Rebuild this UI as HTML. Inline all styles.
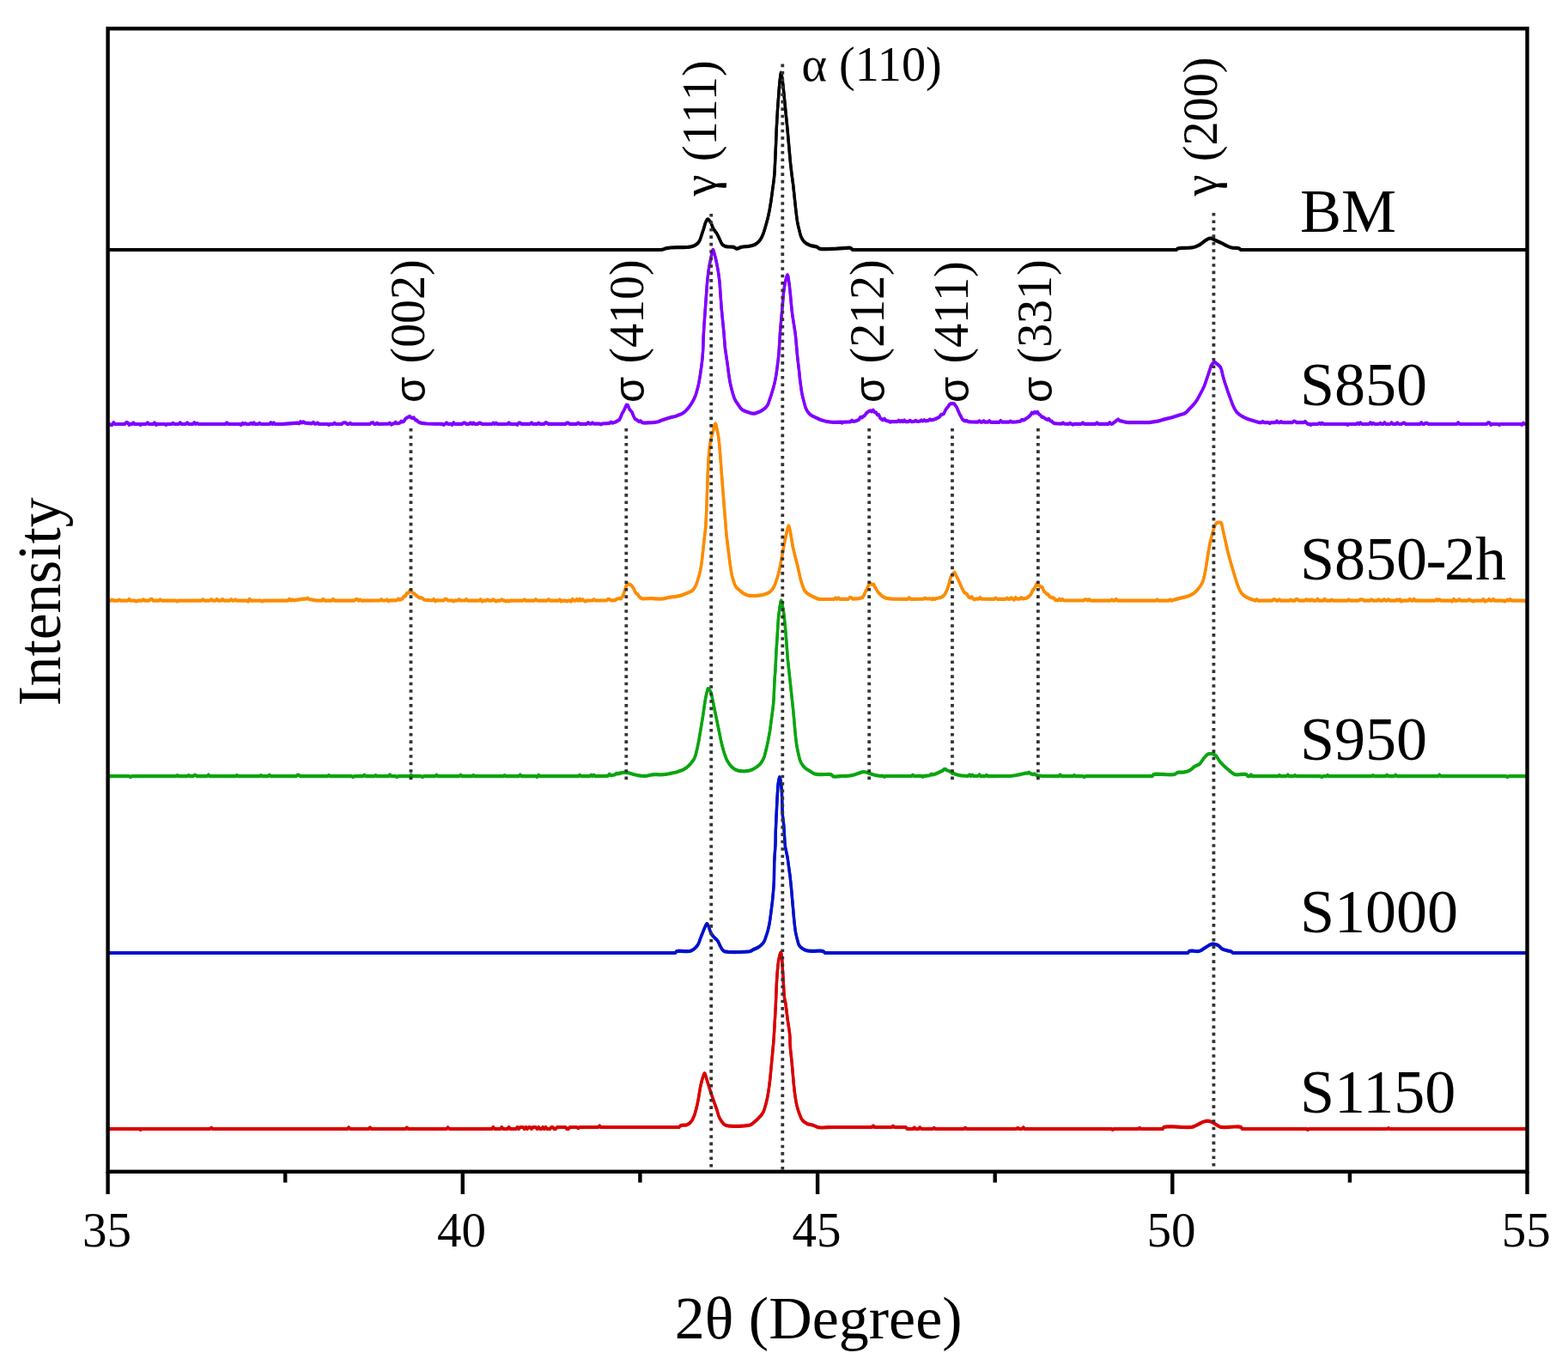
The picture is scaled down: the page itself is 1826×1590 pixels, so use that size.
<!DOCTYPE html>
<html lang="en"><head><meta charset="utf-8"><title>XRD patterns</title>
<style>html,body{margin:0;padding:0;background:#fff;}body{width:1826px;height:1590px;overflow:hidden;}svg{display:block;}text{font-family:"Liberation Serif","DejaVu Serif",serif;fill:#000;}.sg{font-family:"Liberation Sans","DejaVu Sans",sans-serif;}</style>
</head><body>
<svg xmlns="http://www.w3.org/2000/svg" width="1826" height="1590" viewBox="0 0 1826 1590">
<rect x="0" y="0" width="1826" height="1590" fill="#fff"/>
<g fill="none" stroke-width="3.3" stroke-linejoin="round" stroke-linecap="butt">
<path d="M125.6 291.0 L186.7 291.0 L247.7 291.0 L308.8 291.0 L369.8 291.0 L430.9 291.0 L491.9 291.0 L553.0 291.0 L614.0 291.0 L675.1 291.0 L736.1 291.0 L770.0 291.0 L773.0 290.2 L775.5 289.3 L776.3 289.1 L778.3 288.8 L780.7 288.5 L788.9 288.1 L791.4 288.0 L796.7 288.1 L799.1 288.0 L801.4 287.8 L804.7 287.3 L806.2 286.9 L807.7 286.5 L809.0 285.9 L810.2 285.2 L811.3 284.4 L812.3 283.6 L813.2 282.6 L814.0 281.5 L814.8 280.2 L815.4 278.7 L819.7 265.8 L821.1 260.6 L822.5 257.4 L823.0 256.4 L823.5 255.7 L824.1 255.4 L824.8 255.6 L825.6 256.3 L826.4 257.3 L827.9 259.5 L828.5 260.6 L829.8 264.5 L830.4 265.8 L831.2 267.1 L833.9 270.8 L834.8 272.1 L836.1 274.6 L838.5 279.7 L839.7 282.4 L840.3 283.6 L841.1 284.7 L841.8 285.3 L842.6 285.9 L843.5 286.4 L844.4 286.8 L845.5 287.2 L847.1 287.4 L848.9 287.5 L852.7 287.6 L854.3 287.8 L855.1 288.1 L856.6 289.1 L857.3 289.5 L858.1 289.7 L859.0 289.6 L859.9 289.2 L861.9 288.2 L863.1 287.8 L865.0 287.5 L871.8 286.9 L873.8 286.5 L876.2 286.0 L877.3 285.6 L878.4 285.2 L879.4 284.7 L880.6 283.9 L881.9 283.0 L883.0 281.9 L884.1 280.8 L885.1 279.6 L886.0 278.3 L886.8 276.8 L887.5 275.3 L888.9 272.1 L889.5 270.3 L890.7 266.5 L893.4 257.0 L894.8 251.3 L896.3 243.8 L897.9 234.3 L901.3 208.8 L901.9 202.9 L902.2 198.1 L903.5 169.2 L904.3 149.4 L905.6 126.3 L907.4 102.0 L908.3 92.4 L909.3 85.4 L909.5 84.8 L909.6 84.6 L909.8 84.9 L910.9 91.2 L911.8 98.2 L916.9 149.4 L920.4 188.8 L922.0 202.9 L923.7 215.5 L926.7 243.9 L928.0 254.7 L928.8 259.5 L929.6 263.4 L931.8 272.3 L932.3 274.0 L932.8 275.6 L933.5 277.1 L934.2 278.4 L935.0 279.6 L935.9 280.8 L936.9 281.8 L937.9 282.8 L939.0 283.6 L940.3 284.3 L941.5 284.9 L944.2 285.9 L945.7 286.4 L950.5 287.4 L951.8 287.8 L952.3 288.2 L953.2 289.0 L953.6 289.4 L954.3 289.7 L956.6 290.1 L959.7 290.2 L963.3 290.1 L974.3 289.6 L985.5 288.8 L989.6 288.7 L990.1 288.8 L990.5 288.9 L991.0 289.2 L993.0 291.0 L1054.5 291.0 L1115.6 291.0 L1176.6 291.0 L1237.7 291.0 L1298.7 291.0 L1359.8 291.0 L1370.1 291.0 L1370.7 290.1 L1371.0 289.8 L1371.4 289.5 L1373.6 289.1 L1376.9 288.9 L1384.6 288.7 L1387.6 288.4 L1389.2 288.1 L1390.6 287.8 L1391.8 287.5 L1393.0 287.0 L1394.2 286.6 L1395.1 286.1 L1396.9 285.2 L1398.6 284.1 L1399.6 283.3 L1402.9 280.7 L1406.2 278.7 L1407.3 278.1 L1408.4 277.7 L1409.5 277.5 L1410.6 277.6 L1411.7 278.0 L1415.0 279.7 L1421.6 282.7 L1426.4 285.2 L1429.9 286.9 L1431.1 287.4 L1432.3 287.8 L1433.6 288.2 L1435.5 288.6 L1439.9 288.9 L1441.9 289.1 L1443.3 289.5 L1443.7 289.8 L1444.8 291.0 L1506.3 291.0 L1567.4 291.0 L1628.4 291.0 L1689.5 291.0 L1750.5 291.0 L1778.5 291.0" stroke="#000000" transform="translate(0 -0.45)"/>
<path d="M125.6 291.0 L186.7 291.0 L247.7 291.0 L308.8 291.0 L369.8 291.0 L430.9 291.0 L491.9 291.0 L553.0 291.0 L614.0 291.0 L675.1 291.0 L736.1 291.0 L770.0 291.0 L773.0 290.2 L775.5 289.3 L776.3 289.1 L778.3 288.8 L780.7 288.5 L788.9 288.1 L791.4 288.0 L796.7 288.1 L799.1 288.0 L801.4 287.8 L804.7 287.3 L806.2 286.9 L807.7 286.5 L809.0 285.9 L810.2 285.2 L811.3 284.4 L812.3 283.6 L813.2 282.6 L814.0 281.5 L814.8 280.2 L815.4 278.7 L819.7 265.8 L821.1 260.6 L822.5 257.4 L823.0 256.4 L823.5 255.7 L824.1 255.4 L824.8 255.6 L825.6 256.3 L826.4 257.3 L827.9 259.5 L828.5 260.6 L829.8 264.5 L830.4 265.8 L831.2 267.1 L833.9 270.8 L834.8 272.1 L836.1 274.6 L838.5 279.7 L839.7 282.4 L840.3 283.6 L841.1 284.7 L841.8 285.3 L842.6 285.9 L843.5 286.4 L844.4 286.8 L845.5 287.2 L847.1 287.4 L848.9 287.5 L852.7 287.6 L854.3 287.8 L855.1 288.1 L856.6 289.1 L857.3 289.5 L858.1 289.7 L859.0 289.6 L859.9 289.2 L861.9 288.2 L863.1 287.8 L865.0 287.5 L871.8 286.9 L873.8 286.5 L876.2 286.0 L877.3 285.6 L878.4 285.2 L879.4 284.7 L880.6 283.9 L881.9 283.0 L883.0 281.9 L884.1 280.8 L885.1 279.6 L886.0 278.3 L886.8 276.8 L887.5 275.3 L888.9 272.1 L889.5 270.3 L890.7 266.5 L893.4 257.0 L894.8 251.3 L896.3 243.8 L897.9 234.3 L901.3 208.8 L901.9 202.9 L902.2 198.1 L903.5 169.2 L904.3 149.4 L905.6 126.3 L907.4 102.0 L908.3 92.4 L909.3 85.4 L909.5 84.8 L909.6 84.6 L909.8 84.9 L910.9 91.2 L911.8 98.2 L916.9 149.4 L920.4 188.8 L922.0 202.9 L923.7 215.5 L926.7 243.9 L928.0 254.7 L928.8 259.5 L929.6 263.4 L931.8 272.3 L932.3 274.0 L932.8 275.6 L933.5 277.1 L934.2 278.4 L935.0 279.6 L935.9 280.8 L936.9 281.8 L937.9 282.8 L939.0 283.6 L940.3 284.3 L941.5 284.9 L944.2 285.9 L945.7 286.4 L950.5 287.4 L951.8 287.8 L952.3 288.2 L953.2 289.0 L953.6 289.4 L954.3 289.7 L956.6 290.1 L959.7 290.2 L963.3 290.1 L974.3 289.6 L985.5 288.8 L989.6 288.7 L990.1 288.8 L990.5 288.9 L991.0 289.2 L993.0 291.0 L1054.5 291.0 L1115.6 291.0 L1176.6 291.0 L1237.7 291.0 L1298.7 291.0 L1359.8 291.0 L1370.1 291.0 L1370.7 290.1 L1371.0 289.8 L1371.4 289.5 L1373.6 289.1 L1376.9 288.9 L1384.6 288.7 L1387.6 288.4 L1389.2 288.1 L1390.6 287.8 L1391.8 287.5 L1393.0 287.0 L1394.2 286.6 L1395.1 286.1 L1396.9 285.2 L1398.6 284.1 L1399.6 283.3 L1402.9 280.7 L1406.2 278.7 L1407.3 278.1 L1408.4 277.7 L1409.5 277.5 L1410.6 277.6 L1411.7 278.0 L1415.0 279.7 L1421.6 282.7 L1426.4 285.2 L1429.9 286.9 L1431.1 287.4 L1432.3 287.8 L1433.6 288.2 L1435.5 288.6 L1439.9 288.9 L1441.9 289.1 L1443.3 289.5 L1443.7 289.8 L1444.8 291.0 L1506.3 291.0 L1567.4 291.0 L1628.4 291.0 L1689.5 291.0 L1750.5 291.0 L1778.5 291.0" stroke="#000000" transform="translate(0 0.45)"/>
<path d="M125.6 492.8 L127.2 494.0 L128.9 494.9 L130.6 494.9 L132.2 492.2 L133.9 494.0 L145.4 494.0 L147.1 492.2 L148.7 492.3 L150.4 494.9 L152.0 494.0 L153.7 494.0 L155.3 492.5 L157.0 494.0 L161.9 494.0 L163.6 494.9 L165.2 494.0 L170.2 494.0 L171.8 492.4 L173.5 494.0 L178.4 494.0 L180.1 492.5 L181.7 494.9 L183.4 494.0 L191.6 494.0 L193.3 494.9 L194.9 494.0 L199.9 494.0 L201.5 492.9 L203.2 494.0 L208.1 494.0 L209.8 492.3 L211.4 494.0 L216.4 494.0 L218.0 492.4 L219.7 494.0 L224.6 494.0 L226.3 492.2 L227.9 494.0 L229.6 493.0 L231.2 494.0 L262.6 494.0 L264.2 492.5 L265.9 494.0 L279.1 494.0 L280.7 494.9 L282.4 492.9 L284.0 494.0 L285.7 493.0 L287.3 494.0 L290.6 494.0 L292.3 492.8 L293.9 494.0 L295.6 492.5 L297.2 494.0 L300.5 494.0 L302.2 492.9 L303.8 494.0 L313.7 494.0 L315.4 492.2 L317.0 494.0 L318.7 492.5 L320.3 494.0 L330.2 493.8 L346.7 492.6 L348.4 493.4 L350.0 491.1 L351.7 492.5 L353.3 491.3 L355.0 492.6 L363.2 493.3 L364.9 491.9 L366.5 493.6 L368.2 493.7 L369.8 492.7 L371.5 493.8 L381.4 494.0 L383.0 494.9 L384.7 494.0 L388.0 494.0 L389.6 492.6 L391.3 494.0 L397.9 494.0 L399.5 492.6 L401.2 492.3 L402.8 492.5 L404.5 494.0 L406.1 494.0 L407.8 492.8 L409.4 494.0 L430.9 493.9 L432.5 492.5 L434.2 492.2 L435.8 493.9 L437.5 493.9 L439.1 492.8 L440.8 493.9 L452.3 493.7 L454.0 492.7 L455.6 494.6 L457.3 493.6 L458.9 493.5 L460.6 491.8 L462.2 493.3 L463.9 493.0 L465.5 492.7 L467.2 490.7 L468.8 491.5 L470.5 490.6 L472.1 487.9 L473.8 486.7 L475.4 485.8 L477.1 484.9 L478.7 486.5 L480.4 487.1 L482.0 486.5 L483.7 489.3 L485.3 489.4 L487.0 491.4 L488.6 492.1 L490.3 492.6 L491.9 493.0 L493.6 493.2 L496.9 493.5 L515.0 493.9 L516.7 494.8 L518.3 493.9 L520.0 492.5 L521.6 493.9 L524.9 493.9 L526.6 494.8 L528.2 492.3 L529.9 493.9 L538.1 493.9 L539.8 492.7 L541.4 492.6 L543.1 493.9 L546.4 493.9 L548.0 492.5 L549.7 493.9 L551.3 492.6 L553.0 493.9 L556.3 493.9 L557.9 492.7 L559.6 492.9 L561.2 493.9 L572.8 494.0 L574.4 492.6 L576.1 494.0 L577.7 492.6 L579.4 494.0 L590.9 494.0 L592.6 492.5 L594.2 494.0 L600.8 494.0 L602.5 494.9 L604.1 492.6 L605.8 492.7 L607.4 493.9 L617.3 493.9 L619.0 492.4 L620.6 493.9 L625.6 493.9 L627.2 492.7 L628.9 493.9 L633.8 493.9 L635.5 492.2 L637.1 492.8 L638.8 493.9 L658.6 493.9 L660.2 492.6 L661.9 492.7 L663.5 493.9 L671.8 493.8 L673.4 492.6 L675.1 493.8 L683.3 493.8 L685.0 492.2 L686.6 493.7 L688.3 493.7 L689.9 492.4 L691.6 493.7 L698.2 493.6 L699.8 494.4 L701.5 493.5 L708.1 493.1 L709.7 493.0 L711.4 491.7 L713.0 492.6 L714.7 492.2 L716.3 491.8 L718.0 491.0 L719.6 489.9 L721.3 489.1 L722.9 485.7 L724.6 481.3 L726.2 478.9 L729.5 471.7 L731.2 472.1 L732.8 476.3 L734.5 478.5 L736.1 480.3 L737.8 484.6 L739.4 487.9 L741.1 488.8 L742.7 490.1 L744.4 491.1 L746.0 490.3 L747.7 492.1 L749.3 492.5 L750.6 492.6 L760.1 492.2 L763.0 491.9 L765.4 491.5 L766.5 491.3 L770.0 489.8 L777.5 487.3 L779.4 486.7 L781.3 486.1 L785.2 485.2 L787.1 484.7 L788.9 484.1 L792.1 482.8 L793.6 482.1 L795.1 481.3 L796.4 480.4 L797.6 479.5 L798.6 478.5 L800.5 476.4 L802.4 474.2 L804.2 471.7 L805.8 469.0 L807.5 466.1 L809.0 463.0 L809.6 461.5 L810.2 460.0 L811.1 457.0 L812.8 450.7 L813.9 445.8 L815.2 438.2 L817.4 422.6 L818.1 416.2 L818.6 408.7 L818.9 401.9 L819.1 394.1 L819.9 379.8 L823.2 333.9 L823.9 325.2 L824.9 317.4 L825.5 312.6 L826.3 308.3 L828.3 298.6 L829.3 293.5 L829.8 291.6 L830.3 290.9 L830.7 291.3 L831.1 292.5 L833.5 301.4 L834.9 308.1 L836.1 314.6 L837.1 321.0 L838.1 329.6 L840.1 358.3 L842.9 387.0 L844.4 405.5 L847.0 423.1 L849.0 438.3 L849.8 443.4 L850.7 447.8 L852.0 453.3 L853.6 459.1 L854.2 461.0 L854.8 462.9 L855.5 464.6 L856.2 466.0 L856.9 467.3 L858.5 469.7 L861.2 473.6 L862.1 475.0 L863.2 476.2 L864.3 477.2 L865.5 478.0 L866.7 478.6 L868.0 479.1 L873.6 481.0 L875.1 481.4 L876.6 481.6 L878.2 481.6 L880.1 481.3 L882.0 480.6 L884.0 479.8 L885.9 478.8 L887.6 477.8 L888.9 477.0 L890.2 476.1 L891.3 475.1 L892.3 474.0 L893.3 472.8 L894.1 471.4 L894.8 469.8 L897.9 460.8 L900.7 451.5 L902.2 445.3 L903.4 439.5 L904.2 434.5 L906.3 418.3 L907.2 408.7 L908.6 385.6 L912.4 342.3 L912.7 339.5 L913.4 334.6 L914.1 330.5 L915.7 323.4 L916.2 321.9 L916.6 320.7 L917.0 320.3 L917.5 320.9 L917.9 322.6 L919.3 332.3 L920.8 346.8 L921.8 358.3 L922.8 366.9 L925.8 386.1 L926.4 390.5 L928.7 416.2 L930.4 430.4 L931.6 442.2 L933.1 453.6 L933.9 458.3 L934.7 462.2 L937.2 471.7 L937.8 473.7 L938.4 475.5 L939.2 477.2 L939.9 478.5 L940.7 479.7 L941.6 480.9 L942.5 481.9 L943.6 482.9 L944.8 483.8 L946.2 484.6 L953.4 488.0 L954.9 488.7 L956.4 489.3 L958.1 489.8 L959.9 490.3 L961.9 490.8 L963.9 491.1 L966.0 491.5 L968.1 491.7 L970.4 491.8 L972.8 491.8 L980.0 491.6 L980.5 492.5 L982.1 491.6 L988.7 491.4 L990.4 491.3 L992.0 489.7 L993.7 490.9 L995.3 490.6 L997.0 490.2 L998.6 489.6 L1000.3 488.8 L1001.9 486.1 L1003.6 486.5 L1005.2 485.0 L1006.9 484.3 L1008.5 481.7 L1010.2 480.2 L1011.8 479.0 L1013.5 478.4 L1015.1 479.3 L1016.8 477.6 L1018.4 480.2 L1020.1 480.3 L1021.7 483.2 L1023.4 483.1 L1025.0 487.0 L1026.7 488.3 L1028.3 489.3 L1030.0 487.8 L1031.6 489.9 L1033.3 490.3 L1034.9 490.6 L1036.6 491.7 L1038.2 491.0 L1043.2 491.2 L1044.8 491.2 L1046.5 489.7 L1048.1 491.2 L1049.8 489.9 L1051.4 491.2 L1053.1 489.5 L1054.7 491.2 L1058.0 491.1 L1059.7 489.8 L1061.3 491.1 L1064.6 491.0 L1066.3 489.8 L1067.9 490.9 L1071.2 490.7 L1072.9 489.5 L1074.5 490.5 L1076.2 489.2 L1077.8 490.3 L1081.1 489.9 L1082.8 488.5 L1084.4 489.4 L1086.1 489.0 L1087.7 488.6 L1089.4 488.0 L1091.0 487.3 L1092.7 486.5 L1094.3 485.4 L1096.0 482.8 L1097.6 482.7 L1099.3 481.8 L1100.9 477.8 L1102.6 475.4 L1104.2 473.5 L1105.9 471.0 L1107.5 470.0 L1109.2 470.1 L1110.8 470.1 L1112.5 472.1 L1114.1 474.3 L1117.4 482.2 L1119.1 485.1 L1120.7 488.4 L1122.4 489.7 L1124.0 490.5 L1125.7 489.9 L1127.3 491.1 L1130.6 491.4 L1138.9 491.6 L1140.5 490.3 L1142.2 491.7 L1143.8 491.7 L1145.5 490.3 L1147.1 491.7 L1150.4 491.7 L1152.1 490.2 L1153.7 491.8 L1163.6 491.8 L1165.3 490.0 L1166.9 491.7 L1175.2 491.7 L1176.8 490.6 L1178.5 491.6 L1183.4 491.4 L1185.1 491.2 L1186.7 491.0 L1188.4 490.6 L1190.0 488.9 L1191.7 489.5 L1193.3 488.7 L1195.0 487.6 L1196.6 486.4 L1199.9 483.7 L1201.6 480.7 L1203.2 481.5 L1204.9 479.9 L1206.5 481.0 L1208.2 479.8 L1209.8 482.4 L1211.5 483.5 L1213.1 485.6 L1214.8 485.9 L1216.4 487.0 L1218.1 488.1 L1219.7 488.9 L1221.4 488.0 L1223.0 490.2 L1224.7 490.6 L1226.3 492.3 L1228.0 493.2 L1231.3 493.5 L1236.2 493.6 L1237.9 492.5 L1239.5 493.7 L1244.5 493.8 L1246.1 492.8 L1247.8 493.8 L1249.4 494.7 L1251.1 493.8 L1259.3 493.9 L1261.0 492.4 L1262.6 493.9 L1275.8 493.9 L1277.5 492.4 L1279.1 493.9 L1290.7 493.9 L1292.3 492.2 L1294.0 493.8 L1295.6 493.6 L1297.3 492.1 L1298.9 491.0 L1300.6 489.5 L1302.2 488.5 L1303.9 490.2 L1305.5 490.4 L1308.8 491.3 L1310.5 491.6 L1312.1 491.9 L1313.8 492.1 L1338.5 492.2 L1346.4 490.9 L1348.3 490.6 L1351.5 489.7 L1356.0 488.4 L1364.8 486.2 L1374.9 483.0 L1377.7 482.3 L1378.9 481.8 L1380.1 481.3 L1381.1 480.5 L1382.0 479.7 L1384.5 476.9 L1388.0 473.4 L1390.7 470.4 L1392.4 468.2 L1393.2 467.0 L1394.2 465.6 L1395.9 462.5 L1400.3 454.1 L1402.0 450.6 L1403.4 447.1 L1408.1 433.1 L1409.6 428.2 L1410.1 426.7 L1410.8 425.4 L1412.0 423.6 L1412.6 422.9 L1413.3 422.4 L1414.1 422.1 L1414.9 422.2 L1415.8 422.7 L1416.7 423.4 L1419.2 425.5 L1419.9 426.2 L1420.6 426.9 L1421.2 427.7 L1421.7 428.7 L1422.3 430.2 L1422.8 431.9 L1423.6 435.7 L1424.0 437.4 L1426.2 445.1 L1430.1 456.8 L1434.6 469.0 L1435.2 470.8 L1436.7 474.1 L1437.5 475.8 L1438.4 477.3 L1439.3 478.8 L1440.3 480.2 L1441.3 481.2 L1442.4 482.1 L1443.5 483.0 L1445.8 484.5 L1447.1 485.3 L1449.7 486.6 L1452.4 487.8 L1455.0 488.8 L1466.6 492.2 L1468.8 492.2 L1470.4 491.0 L1472.1 492.2 L1477.0 492.2 L1478.7 493.1 L1480.3 492.2 L1485.3 492.2 L1486.9 490.5 L1488.6 492.2 L1490.2 492.2 L1491.9 491.1 L1493.5 492.2 L1505.1 492.2 L1506.7 490.6 L1508.4 491.0 L1510.0 492.2 L1518.3 492.2 L1519.9 490.9 L1521.6 492.7 L1523.2 494.0 L1524.9 494.0 L1526.5 494.9 L1528.2 494.0 L1534.8 494.0 L1536.4 492.8 L1538.1 494.0 L1539.7 492.6 L1541.4 494.0 L1567.8 494.0 L1569.4 494.9 L1571.1 494.0 L1579.3 494.0 L1581.0 492.9 L1582.6 494.0 L1584.3 492.4 L1585.9 494.0 L1594.2 494.0 L1595.8 492.3 L1597.5 494.0 L1599.1 492.9 L1600.8 494.0 L1605.7 494.0 L1607.4 492.8 L1609.0 494.0 L1610.7 494.0 L1612.3 492.2 L1614.0 494.0 L1618.9 494.0 L1620.6 492.3 L1622.2 494.0 L1625.5 494.0 L1627.2 492.4 L1628.8 494.0 L1632.1 494.0 L1633.8 492.8 L1635.4 492.6 L1637.1 494.0 L1653.6 494.0 L1655.2 492.2 L1656.9 494.0 L1658.5 494.0 L1660.2 492.9 L1661.8 492.9 L1663.5 494.0 L1696.5 494.0 L1698.1 492.3 L1699.8 494.0 L1731.1 494.0 L1732.8 492.4 L1734.4 492.3 L1736.1 494.9 L1737.7 494.0 L1744.3 494.0 L1746.0 494.9 L1747.6 494.0 L1770.7 494.0 L1772.4 494.9 L1774.0 492.8 L1775.7 494.0 L1778.5 494.0" stroke="#8000FF" transform="translate(0 -0.45)"/>
<path d="M125.6 492.8 L127.2 494.0 L128.9 494.9 L130.6 494.9 L132.2 492.2 L133.9 494.0 L145.4 494.0 L147.1 492.2 L148.7 492.3 L150.4 494.9 L152.0 494.0 L153.7 494.0 L155.3 492.5 L157.0 494.0 L161.9 494.0 L163.6 494.9 L165.2 494.0 L170.2 494.0 L171.8 492.4 L173.5 494.0 L178.4 494.0 L180.1 492.5 L181.7 494.9 L183.4 494.0 L191.6 494.0 L193.3 494.9 L194.9 494.0 L199.9 494.0 L201.5 492.9 L203.2 494.0 L208.1 494.0 L209.8 492.3 L211.4 494.0 L216.4 494.0 L218.0 492.4 L219.7 494.0 L224.6 494.0 L226.3 492.2 L227.9 494.0 L229.6 493.0 L231.2 494.0 L262.6 494.0 L264.2 492.5 L265.9 494.0 L279.1 494.0 L280.7 494.9 L282.4 492.9 L284.0 494.0 L285.7 493.0 L287.3 494.0 L290.6 494.0 L292.3 492.8 L293.9 494.0 L295.6 492.5 L297.2 494.0 L300.5 494.0 L302.2 492.9 L303.8 494.0 L313.7 494.0 L315.4 492.2 L317.0 494.0 L318.7 492.5 L320.3 494.0 L330.2 493.8 L346.7 492.6 L348.4 493.4 L350.0 491.1 L351.7 492.5 L353.3 491.3 L355.0 492.6 L363.2 493.3 L364.9 491.9 L366.5 493.6 L368.2 493.7 L369.8 492.7 L371.5 493.8 L381.4 494.0 L383.0 494.9 L384.7 494.0 L388.0 494.0 L389.6 492.6 L391.3 494.0 L397.9 494.0 L399.5 492.6 L401.2 492.3 L402.8 492.5 L404.5 494.0 L406.1 494.0 L407.8 492.8 L409.4 494.0 L430.9 493.9 L432.5 492.5 L434.2 492.2 L435.8 493.9 L437.5 493.9 L439.1 492.8 L440.8 493.9 L452.3 493.7 L454.0 492.7 L455.6 494.6 L457.3 493.6 L458.9 493.5 L460.6 491.8 L462.2 493.3 L463.9 493.0 L465.5 492.7 L467.2 490.7 L468.8 491.5 L470.5 490.6 L472.1 487.9 L473.8 486.7 L475.4 485.8 L477.1 484.9 L478.7 486.5 L480.4 487.1 L482.0 486.5 L483.7 489.3 L485.3 489.4 L487.0 491.4 L488.6 492.1 L490.3 492.6 L491.9 493.0 L493.6 493.2 L496.9 493.5 L515.0 493.9 L516.7 494.8 L518.3 493.9 L520.0 492.5 L521.6 493.9 L524.9 493.9 L526.6 494.8 L528.2 492.3 L529.9 493.9 L538.1 493.9 L539.8 492.7 L541.4 492.6 L543.1 493.9 L546.4 493.9 L548.0 492.5 L549.7 493.9 L551.3 492.6 L553.0 493.9 L556.3 493.9 L557.9 492.7 L559.6 492.9 L561.2 493.9 L572.8 494.0 L574.4 492.6 L576.1 494.0 L577.7 492.6 L579.4 494.0 L590.9 494.0 L592.6 492.5 L594.2 494.0 L600.8 494.0 L602.5 494.9 L604.1 492.6 L605.8 492.7 L607.4 493.9 L617.3 493.9 L619.0 492.4 L620.6 493.9 L625.6 493.9 L627.2 492.7 L628.9 493.9 L633.8 493.9 L635.5 492.2 L637.1 492.8 L638.8 493.9 L658.6 493.9 L660.2 492.6 L661.9 492.7 L663.5 493.9 L671.8 493.8 L673.4 492.6 L675.1 493.8 L683.3 493.8 L685.0 492.2 L686.6 493.7 L688.3 493.7 L689.9 492.4 L691.6 493.7 L698.2 493.6 L699.8 494.4 L701.5 493.5 L708.1 493.1 L709.7 493.0 L711.4 491.7 L713.0 492.6 L714.7 492.2 L716.3 491.8 L718.0 491.0 L719.6 489.9 L721.3 489.1 L722.9 485.7 L724.6 481.3 L726.2 478.9 L729.5 471.7 L731.2 472.1 L732.8 476.3 L734.5 478.5 L736.1 480.3 L737.8 484.6 L739.4 487.9 L741.1 488.8 L742.7 490.1 L744.4 491.1 L746.0 490.3 L747.7 492.1 L749.3 492.5 L750.6 492.6 L760.1 492.2 L763.0 491.9 L765.4 491.5 L766.5 491.3 L770.0 489.8 L777.5 487.3 L779.4 486.7 L781.3 486.1 L785.2 485.2 L787.1 484.7 L788.9 484.1 L792.1 482.8 L793.6 482.1 L795.1 481.3 L796.4 480.4 L797.6 479.5 L798.6 478.5 L800.5 476.4 L802.4 474.2 L804.2 471.7 L805.8 469.0 L807.5 466.1 L809.0 463.0 L809.6 461.5 L810.2 460.0 L811.1 457.0 L812.8 450.7 L813.9 445.8 L815.2 438.2 L817.4 422.6 L818.1 416.2 L818.6 408.7 L818.9 401.9 L819.1 394.1 L819.9 379.8 L823.2 333.9 L823.9 325.2 L824.9 317.4 L825.5 312.6 L826.3 308.3 L828.3 298.6 L829.3 293.5 L829.8 291.6 L830.3 290.9 L830.7 291.3 L831.1 292.5 L833.5 301.4 L834.9 308.1 L836.1 314.6 L837.1 321.0 L838.1 329.6 L840.1 358.3 L842.9 387.0 L844.4 405.5 L847.0 423.1 L849.0 438.3 L849.8 443.4 L850.7 447.8 L852.0 453.3 L853.6 459.1 L854.2 461.0 L854.8 462.9 L855.5 464.6 L856.2 466.0 L856.9 467.3 L858.5 469.7 L861.2 473.6 L862.1 475.0 L863.2 476.2 L864.3 477.2 L865.5 478.0 L866.7 478.6 L868.0 479.1 L873.6 481.0 L875.1 481.4 L876.6 481.6 L878.2 481.6 L880.1 481.3 L882.0 480.6 L884.0 479.8 L885.9 478.8 L887.6 477.8 L888.9 477.0 L890.2 476.1 L891.3 475.1 L892.3 474.0 L893.3 472.8 L894.1 471.4 L894.8 469.8 L897.9 460.8 L900.7 451.5 L902.2 445.3 L903.4 439.5 L904.2 434.5 L906.3 418.3 L907.2 408.7 L908.6 385.6 L912.4 342.3 L912.7 339.5 L913.4 334.6 L914.1 330.5 L915.7 323.4 L916.2 321.9 L916.6 320.7 L917.0 320.3 L917.5 320.9 L917.9 322.6 L919.3 332.3 L920.8 346.8 L921.8 358.3 L922.8 366.9 L925.8 386.1 L926.4 390.5 L928.7 416.2 L930.4 430.4 L931.6 442.2 L933.1 453.6 L933.9 458.3 L934.7 462.2 L937.2 471.7 L937.8 473.7 L938.4 475.5 L939.2 477.2 L939.9 478.5 L940.7 479.7 L941.6 480.9 L942.5 481.9 L943.6 482.9 L944.8 483.8 L946.2 484.6 L953.4 488.0 L954.9 488.7 L956.4 489.3 L958.1 489.8 L959.9 490.3 L961.9 490.8 L963.9 491.1 L966.0 491.5 L968.1 491.7 L970.4 491.8 L972.8 491.8 L980.0 491.6 L980.5 492.5 L982.1 491.6 L988.7 491.4 L990.4 491.3 L992.0 489.7 L993.7 490.9 L995.3 490.6 L997.0 490.2 L998.6 489.6 L1000.3 488.8 L1001.9 486.1 L1003.6 486.5 L1005.2 485.0 L1006.9 484.3 L1008.5 481.7 L1010.2 480.2 L1011.8 479.0 L1013.5 478.4 L1015.1 479.3 L1016.8 477.6 L1018.4 480.2 L1020.1 480.3 L1021.7 483.2 L1023.4 483.1 L1025.0 487.0 L1026.7 488.3 L1028.3 489.3 L1030.0 487.8 L1031.6 489.9 L1033.3 490.3 L1034.9 490.6 L1036.6 491.7 L1038.2 491.0 L1043.2 491.2 L1044.8 491.2 L1046.5 489.7 L1048.1 491.2 L1049.8 489.9 L1051.4 491.2 L1053.1 489.5 L1054.7 491.2 L1058.0 491.1 L1059.7 489.8 L1061.3 491.1 L1064.6 491.0 L1066.3 489.8 L1067.9 490.9 L1071.2 490.7 L1072.9 489.5 L1074.5 490.5 L1076.2 489.2 L1077.8 490.3 L1081.1 489.9 L1082.8 488.5 L1084.4 489.4 L1086.1 489.0 L1087.7 488.6 L1089.4 488.0 L1091.0 487.3 L1092.7 486.5 L1094.3 485.4 L1096.0 482.8 L1097.6 482.7 L1099.3 481.8 L1100.9 477.8 L1102.6 475.4 L1104.2 473.5 L1105.9 471.0 L1107.5 470.0 L1109.2 470.1 L1110.8 470.1 L1112.5 472.1 L1114.1 474.3 L1117.4 482.2 L1119.1 485.1 L1120.7 488.4 L1122.4 489.7 L1124.0 490.5 L1125.7 489.9 L1127.3 491.1 L1130.6 491.4 L1138.9 491.6 L1140.5 490.3 L1142.2 491.7 L1143.8 491.7 L1145.5 490.3 L1147.1 491.7 L1150.4 491.7 L1152.1 490.2 L1153.7 491.8 L1163.6 491.8 L1165.3 490.0 L1166.9 491.7 L1175.2 491.7 L1176.8 490.6 L1178.5 491.6 L1183.4 491.4 L1185.1 491.2 L1186.7 491.0 L1188.4 490.6 L1190.0 488.9 L1191.7 489.5 L1193.3 488.7 L1195.0 487.6 L1196.6 486.4 L1199.9 483.7 L1201.6 480.7 L1203.2 481.5 L1204.9 479.9 L1206.5 481.0 L1208.2 479.8 L1209.8 482.4 L1211.5 483.5 L1213.1 485.6 L1214.8 485.9 L1216.4 487.0 L1218.1 488.1 L1219.7 488.9 L1221.4 488.0 L1223.0 490.2 L1224.7 490.6 L1226.3 492.3 L1228.0 493.2 L1231.3 493.5 L1236.2 493.6 L1237.9 492.5 L1239.5 493.7 L1244.5 493.8 L1246.1 492.8 L1247.8 493.8 L1249.4 494.7 L1251.1 493.8 L1259.3 493.9 L1261.0 492.4 L1262.6 493.9 L1275.8 493.9 L1277.5 492.4 L1279.1 493.9 L1290.7 493.9 L1292.3 492.2 L1294.0 493.8 L1295.6 493.6 L1297.3 492.1 L1298.9 491.0 L1300.6 489.5 L1302.2 488.5 L1303.9 490.2 L1305.5 490.4 L1308.8 491.3 L1310.5 491.6 L1312.1 491.9 L1313.8 492.1 L1338.5 492.2 L1346.4 490.9 L1348.3 490.6 L1351.5 489.7 L1356.0 488.4 L1364.8 486.2 L1374.9 483.0 L1377.7 482.3 L1378.9 481.8 L1380.1 481.3 L1381.1 480.5 L1382.0 479.7 L1384.5 476.9 L1388.0 473.4 L1390.7 470.4 L1392.4 468.2 L1393.2 467.0 L1394.2 465.6 L1395.9 462.5 L1400.3 454.1 L1402.0 450.6 L1403.4 447.1 L1408.1 433.1 L1409.6 428.2 L1410.1 426.7 L1410.8 425.4 L1412.0 423.6 L1412.6 422.9 L1413.3 422.4 L1414.1 422.1 L1414.9 422.2 L1415.8 422.7 L1416.7 423.4 L1419.2 425.5 L1419.9 426.2 L1420.6 426.9 L1421.2 427.7 L1421.7 428.7 L1422.3 430.2 L1422.8 431.9 L1423.6 435.7 L1424.0 437.4 L1426.2 445.1 L1430.1 456.8 L1434.6 469.0 L1435.2 470.8 L1436.7 474.1 L1437.5 475.8 L1438.4 477.3 L1439.3 478.8 L1440.3 480.2 L1441.3 481.2 L1442.4 482.1 L1443.5 483.0 L1445.8 484.5 L1447.1 485.3 L1449.7 486.6 L1452.4 487.8 L1455.0 488.8 L1466.6 492.2 L1468.8 492.2 L1470.4 491.0 L1472.1 492.2 L1477.0 492.2 L1478.7 493.1 L1480.3 492.2 L1485.3 492.2 L1486.9 490.5 L1488.6 492.2 L1490.2 492.2 L1491.9 491.1 L1493.5 492.2 L1505.1 492.2 L1506.7 490.6 L1508.4 491.0 L1510.0 492.2 L1518.3 492.2 L1519.9 490.9 L1521.6 492.7 L1523.2 494.0 L1524.9 494.0 L1526.5 494.9 L1528.2 494.0 L1534.8 494.0 L1536.4 492.8 L1538.1 494.0 L1539.7 492.6 L1541.4 494.0 L1567.8 494.0 L1569.4 494.9 L1571.1 494.0 L1579.3 494.0 L1581.0 492.9 L1582.6 494.0 L1584.3 492.4 L1585.9 494.0 L1594.2 494.0 L1595.8 492.3 L1597.5 494.0 L1599.1 492.9 L1600.8 494.0 L1605.7 494.0 L1607.4 492.8 L1609.0 494.0 L1610.7 494.0 L1612.3 492.2 L1614.0 494.0 L1618.9 494.0 L1620.6 492.3 L1622.2 494.0 L1625.5 494.0 L1627.2 492.4 L1628.8 494.0 L1632.1 494.0 L1633.8 492.8 L1635.4 492.6 L1637.1 494.0 L1653.6 494.0 L1655.2 492.2 L1656.9 494.0 L1658.5 494.0 L1660.2 492.9 L1661.8 492.9 L1663.5 494.0 L1696.5 494.0 L1698.1 492.3 L1699.8 494.0 L1731.1 494.0 L1732.8 492.4 L1734.4 492.3 L1736.1 494.9 L1737.7 494.0 L1744.3 494.0 L1746.0 494.9 L1747.6 494.0 L1770.7 494.0 L1772.4 494.9 L1774.0 492.8 L1775.7 494.0 L1778.5 494.0" stroke="#8000FF" transform="translate(0 0.45)"/>
<path d="M125.6 699.6 L128.9 699.6 L130.6 698.6 L132.2 699.6 L137.2 699.6 L138.8 698.6 L140.5 699.6 L148.7 699.6 L150.4 697.9 L152.0 699.6 L157.0 699.6 L158.6 700.5 L160.3 699.6 L165.2 699.6 L166.9 698.4 L168.5 699.6 L173.5 699.6 L175.1 698.1 L176.8 697.9 L178.4 699.6 L185.0 699.6 L186.7 698.4 L188.3 699.6 L204.8 699.6 L206.5 700.5 L208.1 699.6 L234.5 699.6 L236.2 698.3 L237.8 699.6 L244.4 699.6 L246.1 698.2 L247.7 699.6 L251.0 699.6 L252.7 698.0 L254.3 699.6 L257.6 699.6 L259.3 698.0 L260.9 699.6 L267.5 699.6 L269.2 698.1 L270.8 699.6 L272.5 699.6 L274.1 698.4 L275.8 699.6 L287.3 699.6 L289.0 700.5 L290.6 697.8 L292.3 699.6 L303.8 699.6 L305.5 700.5 L307.1 699.6 L335.2 699.6 L336.8 697.8 L338.5 699.5 L340.1 698.4 L341.8 699.3 L345.1 698.9 L351.7 697.8 L353.3 697.7 L355.0 697.6 L356.6 697.6 L358.3 696.7 L359.9 698.0 L364.9 698.9 L368.2 699.3 L371.5 699.5 L374.8 699.6 L376.4 697.9 L378.1 699.6 L386.3 699.6 L388.0 697.9 L389.6 699.6 L412.7 699.6 L414.4 698.1 L416.0 698.0 L417.7 699.6 L419.3 698.5 L421.0 699.6 L442.4 699.5 L444.1 698.2 L445.7 699.5 L449.0 699.5 L450.7 698.4 L452.3 700.3 L454.0 699.4 L460.6 699.3 L462.2 699.2 L463.9 697.5 L465.5 698.7 L467.2 698.2 L468.8 697.3 L470.5 694.5 L472.1 694.5 L473.8 690.9 L475.4 690.9 L477.1 688.3 L478.7 688.5 L480.4 690.2 L482.0 691.3 L485.3 694.0 L487.0 695.3 L488.6 696.4 L490.3 696.2 L491.9 696.8 L493.6 698.5 L495.2 698.8 L496.9 699.0 L500.2 699.2 L503.5 699.3 L505.1 698.0 L506.8 700.3 L508.4 699.4 L516.7 699.5 L518.3 697.8 L520.0 697.9 L521.6 699.5 L526.6 699.5 L528.2 700.4 L529.9 699.5 L533.2 699.5 L534.8 698.2 L536.5 699.5 L541.4 699.5 L543.1 698.0 L544.7 699.6 L557.9 699.6 L559.6 698.1 L561.2 700.5 L562.9 699.6 L566.2 699.6 L567.8 698.5 L569.5 699.6 L572.8 699.6 L574.4 698.3 L576.1 699.6 L577.7 700.5 L579.4 699.6 L582.7 699.6 L584.3 698.3 L586.0 699.6 L587.6 699.6 L589.3 700.5 L590.9 699.6 L592.6 700.5 L594.2 699.6 L609.1 699.6 L610.7 698.4 L612.4 699.6 L622.3 699.6 L623.9 698.2 L625.6 699.6 L637.1 699.6 L638.8 698.1 L640.4 699.6 L650.3 699.6 L652.0 698.4 L653.6 700.5 L655.3 699.6 L658.6 699.6 L660.2 700.5 L661.9 699.6 L663.5 699.6 L665.2 700.5 L666.8 697.9 L668.5 699.6 L670.1 699.6 L671.8 698.0 L673.4 699.6 L675.1 697.8 L676.7 699.6 L678.4 698.2 L680.0 699.6 L681.7 700.5 L683.3 699.6 L689.9 699.5 L691.6 698.2 L693.2 699.5 L706.4 699.4 L708.1 697.8 L709.7 698.1 L711.4 699.4 L716.3 699.2 L718.0 697.7 L721.3 697.0 L722.9 697.6 L724.6 695.6 L726.2 691.9 L727.9 686.8 L729.5 681.8 L731.2 680.1 L732.8 680.7 L734.5 681.2 L736.1 682.8 L737.8 685.3 L739.4 689.1 L741.1 691.4 L742.7 692.4 L744.4 695.1 L746.0 696.4 L748.0 697.5 L757.7 697.2 L760.0 697.2 L762.1 697.3 L766.1 697.6 L768.0 697.7 L770.0 697.7 L771.9 697.5 L773.7 697.1 L777.5 696.2 L779.4 695.8 L781.9 695.4 L787.1 694.8 L789.7 694.4 L792.0 693.9 L793.8 693.4 L795.5 692.8 L804.2 689.1 L805.4 688.4 L806.5 687.6 L807.4 686.7 L808.2 685.6 L808.9 684.5 L810.3 682.0 L810.9 680.5 L811.5 678.9 L813.7 671.9 L814.7 668.2 L815.6 664.3 L816.3 660.6 L817.4 653.0 L821.8 613.5 L822.2 606.1 L822.7 595.3 L824.3 551.6 L825.0 536.4 L825.7 527.1 L826.3 521.2 L826.9 517.1 L827.7 512.7 L828.6 508.5 L830.7 501.4 L832.1 495.5 L832.6 494.0 L833.1 493.5 L833.5 494.0 L834.0 495.5 L836.1 505.6 L836.6 508.5 L837.2 512.6 L838.1 522.0 L842.7 582.3 L846.0 623.5 L850.0 655.7 L851.2 663.8 L851.8 667.5 L852.7 671.4 L853.7 675.2 L855.1 679.6 L855.6 680.9 L856.1 682.1 L856.8 683.2 L857.5 684.2 L858.4 685.1 L862.2 688.4 L864.1 690.0 L865.2 690.7 L866.2 691.4 L868.4 692.5 L869.5 692.9 L870.7 693.3 L871.9 693.6 L873.3 693.8 L874.8 693.9 L876.3 694.0 L879.4 693.9 L883.2 693.6 L885.1 693.4 L887.1 693.1 L888.9 692.7 L890.5 692.2 L892.1 691.7 L893.6 691.1 L895.1 690.4 L896.4 689.5 L897.6 688.5 L898.7 687.3 L899.7 686.0 L900.6 684.7 L901.4 683.2 L902.3 681.5 L903.0 679.6 L905.5 671.9 L906.6 668.1 L907.5 664.3 L908.3 660.6 L913.9 630.4 L916.0 620.7 L917.8 613.6 L918.1 612.8 L918.4 612.5 L918.7 612.8 L919.0 613.6 L920.3 618.9 L922.8 634.2 L923.5 637.9 L926.3 649.3 L928.7 658.7 L931.6 671.9 L933.0 677.2 L934.0 680.4 L935.5 684.6 L936.0 685.9 L936.6 687.1 L937.3 688.2 L938.1 689.3 L939.1 690.2 L940.1 691.1 L942.3 692.7 L943.5 693.4 L946.1 694.7 L949.5 696.2 L951.1 697.1 L952.0 697.4 L953.0 697.7 L954.9 697.9 L957.2 698.0 L971.4 697.9 L973.1 696.4 L974.7 697.9 L976.4 696.5 L978.0 697.9 L987.9 697.8 L989.6 696.2 L991.2 696.1 L992.9 697.7 L997.8 697.4 L999.5 697.3 L1001.1 697.0 L1002.8 696.4 L1004.4 696.2 L1006.1 693.4 L1007.7 689.4 L1009.4 686.6 L1011.0 682.7 L1012.7 679.1 L1014.3 680.1 L1016.0 681.0 L1017.6 680.9 L1019.3 684.6 L1020.9 686.9 L1022.6 690.1 L1024.2 691.3 L1025.9 693.1 L1027.5 694.5 L1029.2 695.6 L1030.8 696.3 L1032.5 696.9 L1034.1 697.2 L1035.8 697.4 L1039.1 697.7 L1057.2 697.8 L1058.9 696.3 L1060.5 697.8 L1075.4 697.6 L1077.0 696.6 L1078.7 697.5 L1083.6 697.4 L1085.3 698.2 L1086.9 697.2 L1088.6 698.0 L1090.2 697.0 L1091.9 696.8 L1093.5 696.5 L1095.2 696.1 L1096.8 695.4 L1098.5 694.3 L1100.1 692.4 L1101.8 689.5 L1103.4 685.5 L1105.1 680.4 L1106.7 673.5 L1108.4 670.3 L1110.0 668.0 L1111.7 666.8 L1113.3 670.3 L1115.0 673.2 L1116.6 676.8 L1119.9 684.4 L1121.6 687.7 L1123.2 690.5 L1124.9 691.1 L1126.5 692.9 L1128.2 695.6 L1129.8 696.4 L1131.5 695.2 L1133.1 697.2 L1134.8 698.3 L1136.4 697.6 L1139.7 697.7 L1141.4 696.0 L1143.0 697.7 L1157.9 697.8 L1159.5 696.6 L1161.2 697.8 L1171.1 697.8 L1172.7 696.7 L1174.4 697.8 L1176.0 697.8 L1177.7 696.3 L1179.3 697.7 L1181.0 698.6 L1182.6 696.0 L1184.3 697.7 L1187.6 697.6 L1189.2 696.1 L1190.9 697.4 L1192.5 697.2 L1194.2 696.9 L1195.8 696.4 L1197.5 695.4 L1199.1 694.0 L1200.8 691.8 L1202.4 687.9 L1204.1 686.1 L1205.7 683.3 L1207.4 680.0 L1209.0 681.6 L1210.7 682.4 L1212.3 683.9 L1214.0 684.1 L1215.6 688.8 L1217.3 690.0 L1218.9 691.9 L1220.6 692.3 L1222.2 694.8 L1223.9 695.8 L1225.5 696.5 L1227.2 696.3 L1228.8 698.9 L1230.5 699.1 L1232.1 699.3 L1233.8 697.7 L1235.4 699.4 L1237.1 698.0 L1238.7 699.4 L1261.8 699.5 L1263.5 698.4 L1265.1 698.3 L1266.8 699.5 L1268.4 698.1 L1270.1 699.6 L1293.2 699.6 L1294.8 698.5 L1296.5 699.6 L1298.1 699.6 L1299.8 698.0 L1301.4 699.6 L1346.0 699.6 L1347.6 698.5 L1349.3 699.6 L1360.8 699.6 L1362.5 698.5 L1363.8 699.6 L1374.8 696.6 L1380.2 695.4 L1381.9 694.9 L1383.5 694.4 L1386.3 693.3 L1387.6 692.6 L1388.9 691.9 L1390.1 691.1 L1391.3 690.2 L1392.4 689.1 L1393.5 688.0 L1395.6 685.6 L1397.5 683.1 L1398.4 681.8 L1399.2 680.4 L1400.0 679.1 L1400.5 677.8 L1401.0 676.5 L1402.1 672.5 L1402.6 670.5 L1403.5 666.1 L1404.7 659.3 L1407.4 641.8 L1409.0 633.1 L1410.0 628.7 L1411.7 621.9 L1413.8 614.8 L1414.3 613.4 L1414.7 612.2 L1415.3 611.2 L1416.1 610.1 L1416.5 609.6 L1416.9 609.2 L1417.5 609.0 L1418.3 608.7 L1419.2 608.5 L1420.2 608.5 L1421.1 608.6 L1421.9 609.0 L1422.5 609.8 L1422.9 611.0 L1423.8 615.5 L1426.8 629.1 L1429.1 639.6 L1431.3 648.4 L1435.7 663.7 L1440.2 678.5 L1440.9 680.4 L1442.3 684.2 L1443.1 686.1 L1444.0 687.9 L1444.9 689.6 L1446.0 691.1 L1446.9 692.2 L1447.9 693.1 L1449.0 693.9 L1450.2 694.7 L1451.4 695.5 L1453.2 696.4 L1455.1 697.2 L1461.3 699.6 L1461.8 699.6 L1463.4 698.2 L1465.1 699.6 L1481.6 699.6 L1483.2 698.1 L1484.9 698.5 L1486.5 699.6 L1488.2 699.6 L1489.8 698.4 L1491.5 699.6 L1501.4 699.6 L1503.0 698.6 L1504.7 699.6 L1508.0 699.6 L1509.6 697.8 L1511.3 698.4 L1512.9 699.6 L1519.5 699.6 L1521.2 698.1 L1522.8 699.6 L1524.5 698.5 L1526.1 699.6 L1527.8 698.5 L1529.4 699.6 L1532.7 699.6 L1534.4 697.8 L1536.0 699.6 L1541.0 699.6 L1542.6 697.8 L1544.3 699.6 L1549.2 699.6 L1550.9 698.6 L1552.5 699.6 L1569.0 699.6 L1570.7 698.4 L1572.3 699.6 L1582.2 699.6 L1583.9 698.3 L1585.5 698.3 L1587.2 698.6 L1588.8 699.6 L1595.4 699.6 L1597.1 698.4 L1598.7 699.6 L1603.7 699.6 L1605.3 698.4 L1607.0 699.6 L1610.3 699.6 L1611.9 698.2 L1613.6 699.6 L1615.2 699.6 L1616.9 698.3 L1618.5 699.6 L1625.1 699.6 L1626.8 698.4 L1628.4 699.6 L1630.1 698.1 L1631.7 700.5 L1633.4 699.6 L1640.0 699.6 L1641.6 698.0 L1643.3 699.6 L1644.9 699.6 L1646.6 697.8 L1648.2 699.6 L1671.3 699.6 L1673.0 698.1 L1674.6 699.6 L1676.3 698.3 L1677.9 699.6 L1689.5 699.6 L1691.1 700.5 L1692.8 697.9 L1694.4 699.6 L1697.7 699.6 L1699.4 698.2 L1701.0 699.6 L1709.3 699.6 L1710.9 698.3 L1712.6 699.6 L1714.2 699.6 L1715.9 700.5 L1717.5 699.6 L1725.8 699.6 L1727.4 698.0 L1729.1 700.5 L1730.7 699.6 L1732.4 699.6 L1734.0 698.0 L1735.7 699.6 L1737.3 699.6 L1739.0 697.9 L1740.6 699.6 L1750.5 699.6 L1752.2 700.5 L1753.8 699.6 L1755.5 698.6 L1757.1 699.6 L1758.8 698.0 L1760.4 699.6 L1775.3 699.6 L1776.9 700.5 L1778.5 699.6" stroke="#FC8C00" transform="translate(0 -0.45)"/>
<path d="M125.6 699.6 L128.9 699.6 L130.6 698.6 L132.2 699.6 L137.2 699.6 L138.8 698.6 L140.5 699.6 L148.7 699.6 L150.4 697.9 L152.0 699.6 L157.0 699.6 L158.6 700.5 L160.3 699.6 L165.2 699.6 L166.9 698.4 L168.5 699.6 L173.5 699.6 L175.1 698.1 L176.8 697.9 L178.4 699.6 L185.0 699.6 L186.7 698.4 L188.3 699.6 L204.8 699.6 L206.5 700.5 L208.1 699.6 L234.5 699.6 L236.2 698.3 L237.8 699.6 L244.4 699.6 L246.1 698.2 L247.7 699.6 L251.0 699.6 L252.7 698.0 L254.3 699.6 L257.6 699.6 L259.3 698.0 L260.9 699.6 L267.5 699.6 L269.2 698.1 L270.8 699.6 L272.5 699.6 L274.1 698.4 L275.8 699.6 L287.3 699.6 L289.0 700.5 L290.6 697.8 L292.3 699.6 L303.8 699.6 L305.5 700.5 L307.1 699.6 L335.2 699.6 L336.8 697.8 L338.5 699.5 L340.1 698.4 L341.8 699.3 L345.1 698.9 L351.7 697.8 L353.3 697.7 L355.0 697.6 L356.6 697.6 L358.3 696.7 L359.9 698.0 L364.9 698.9 L368.2 699.3 L371.5 699.5 L374.8 699.6 L376.4 697.9 L378.1 699.6 L386.3 699.6 L388.0 697.9 L389.6 699.6 L412.7 699.6 L414.4 698.1 L416.0 698.0 L417.7 699.6 L419.3 698.5 L421.0 699.6 L442.4 699.5 L444.1 698.2 L445.7 699.5 L449.0 699.5 L450.7 698.4 L452.3 700.3 L454.0 699.4 L460.6 699.3 L462.2 699.2 L463.9 697.5 L465.5 698.7 L467.2 698.2 L468.8 697.3 L470.5 694.5 L472.1 694.5 L473.8 690.9 L475.4 690.9 L477.1 688.3 L478.7 688.5 L480.4 690.2 L482.0 691.3 L485.3 694.0 L487.0 695.3 L488.6 696.4 L490.3 696.2 L491.9 696.8 L493.6 698.5 L495.2 698.8 L496.9 699.0 L500.2 699.2 L503.5 699.3 L505.1 698.0 L506.8 700.3 L508.4 699.4 L516.7 699.5 L518.3 697.8 L520.0 697.9 L521.6 699.5 L526.6 699.5 L528.2 700.4 L529.9 699.5 L533.2 699.5 L534.8 698.2 L536.5 699.5 L541.4 699.5 L543.1 698.0 L544.7 699.6 L557.9 699.6 L559.6 698.1 L561.2 700.5 L562.9 699.6 L566.2 699.6 L567.8 698.5 L569.5 699.6 L572.8 699.6 L574.4 698.3 L576.1 699.6 L577.7 700.5 L579.4 699.6 L582.7 699.6 L584.3 698.3 L586.0 699.6 L587.6 699.6 L589.3 700.5 L590.9 699.6 L592.6 700.5 L594.2 699.6 L609.1 699.6 L610.7 698.4 L612.4 699.6 L622.3 699.6 L623.9 698.2 L625.6 699.6 L637.1 699.6 L638.8 698.1 L640.4 699.6 L650.3 699.6 L652.0 698.4 L653.6 700.5 L655.3 699.6 L658.6 699.6 L660.2 700.5 L661.9 699.6 L663.5 699.6 L665.2 700.5 L666.8 697.9 L668.5 699.6 L670.1 699.6 L671.8 698.0 L673.4 699.6 L675.1 697.8 L676.7 699.6 L678.4 698.2 L680.0 699.6 L681.7 700.5 L683.3 699.6 L689.9 699.5 L691.6 698.2 L693.2 699.5 L706.4 699.4 L708.1 697.8 L709.7 698.1 L711.4 699.4 L716.3 699.2 L718.0 697.7 L721.3 697.0 L722.9 697.6 L724.6 695.6 L726.2 691.9 L727.9 686.8 L729.5 681.8 L731.2 680.1 L732.8 680.7 L734.5 681.2 L736.1 682.8 L737.8 685.3 L739.4 689.1 L741.1 691.4 L742.7 692.4 L744.4 695.1 L746.0 696.4 L748.0 697.5 L757.7 697.2 L760.0 697.2 L762.1 697.3 L766.1 697.6 L768.0 697.7 L770.0 697.7 L771.9 697.5 L773.7 697.1 L777.5 696.2 L779.4 695.8 L781.9 695.4 L787.1 694.8 L789.7 694.4 L792.0 693.9 L793.8 693.4 L795.5 692.8 L804.2 689.1 L805.4 688.4 L806.5 687.6 L807.4 686.7 L808.2 685.6 L808.9 684.5 L810.3 682.0 L810.9 680.5 L811.5 678.9 L813.7 671.9 L814.7 668.2 L815.6 664.3 L816.3 660.6 L817.4 653.0 L821.8 613.5 L822.2 606.1 L822.7 595.3 L824.3 551.6 L825.0 536.4 L825.7 527.1 L826.3 521.2 L826.9 517.1 L827.7 512.7 L828.6 508.5 L830.7 501.4 L832.1 495.5 L832.6 494.0 L833.1 493.5 L833.5 494.0 L834.0 495.5 L836.1 505.6 L836.6 508.5 L837.2 512.6 L838.1 522.0 L842.7 582.3 L846.0 623.5 L850.0 655.7 L851.2 663.8 L851.8 667.5 L852.7 671.4 L853.7 675.2 L855.1 679.6 L855.6 680.9 L856.1 682.1 L856.8 683.2 L857.5 684.2 L858.4 685.1 L862.2 688.4 L864.1 690.0 L865.2 690.7 L866.2 691.4 L868.4 692.5 L869.5 692.9 L870.7 693.3 L871.9 693.6 L873.3 693.8 L874.8 693.9 L876.3 694.0 L879.4 693.9 L883.2 693.6 L885.1 693.4 L887.1 693.1 L888.9 692.7 L890.5 692.2 L892.1 691.7 L893.6 691.1 L895.1 690.4 L896.4 689.5 L897.6 688.5 L898.7 687.3 L899.7 686.0 L900.6 684.7 L901.4 683.2 L902.3 681.5 L903.0 679.6 L905.5 671.9 L906.6 668.1 L907.5 664.3 L908.3 660.6 L913.9 630.4 L916.0 620.7 L917.8 613.6 L918.1 612.8 L918.4 612.5 L918.7 612.8 L919.0 613.6 L920.3 618.9 L922.8 634.2 L923.5 637.9 L926.3 649.3 L928.7 658.7 L931.6 671.9 L933.0 677.2 L934.0 680.4 L935.5 684.6 L936.0 685.9 L936.6 687.1 L937.3 688.2 L938.1 689.3 L939.1 690.2 L940.1 691.1 L942.3 692.7 L943.5 693.4 L946.1 694.7 L949.5 696.2 L951.1 697.1 L952.0 697.4 L953.0 697.7 L954.9 697.9 L957.2 698.0 L971.4 697.9 L973.1 696.4 L974.7 697.9 L976.4 696.5 L978.0 697.9 L987.9 697.8 L989.6 696.2 L991.2 696.1 L992.9 697.7 L997.8 697.4 L999.5 697.3 L1001.1 697.0 L1002.8 696.4 L1004.4 696.2 L1006.1 693.4 L1007.7 689.4 L1009.4 686.6 L1011.0 682.7 L1012.7 679.1 L1014.3 680.1 L1016.0 681.0 L1017.6 680.9 L1019.3 684.6 L1020.9 686.9 L1022.6 690.1 L1024.2 691.3 L1025.9 693.1 L1027.5 694.5 L1029.2 695.6 L1030.8 696.3 L1032.5 696.9 L1034.1 697.2 L1035.8 697.4 L1039.1 697.7 L1057.2 697.8 L1058.9 696.3 L1060.5 697.8 L1075.4 697.6 L1077.0 696.6 L1078.7 697.5 L1083.6 697.4 L1085.3 698.2 L1086.9 697.2 L1088.6 698.0 L1090.2 697.0 L1091.9 696.8 L1093.5 696.5 L1095.2 696.1 L1096.8 695.4 L1098.5 694.3 L1100.1 692.4 L1101.8 689.5 L1103.4 685.5 L1105.1 680.4 L1106.7 673.5 L1108.4 670.3 L1110.0 668.0 L1111.7 666.8 L1113.3 670.3 L1115.0 673.2 L1116.6 676.8 L1119.9 684.4 L1121.6 687.7 L1123.2 690.5 L1124.9 691.1 L1126.5 692.9 L1128.2 695.6 L1129.8 696.4 L1131.5 695.2 L1133.1 697.2 L1134.8 698.3 L1136.4 697.6 L1139.7 697.7 L1141.4 696.0 L1143.0 697.7 L1157.9 697.8 L1159.5 696.6 L1161.2 697.8 L1171.1 697.8 L1172.7 696.7 L1174.4 697.8 L1176.0 697.8 L1177.7 696.3 L1179.3 697.7 L1181.0 698.6 L1182.6 696.0 L1184.3 697.7 L1187.6 697.6 L1189.2 696.1 L1190.9 697.4 L1192.5 697.2 L1194.2 696.9 L1195.8 696.4 L1197.5 695.4 L1199.1 694.0 L1200.8 691.8 L1202.4 687.9 L1204.1 686.1 L1205.7 683.3 L1207.4 680.0 L1209.0 681.6 L1210.7 682.4 L1212.3 683.9 L1214.0 684.1 L1215.6 688.8 L1217.3 690.0 L1218.9 691.9 L1220.6 692.3 L1222.2 694.8 L1223.9 695.8 L1225.5 696.5 L1227.2 696.3 L1228.8 698.9 L1230.5 699.1 L1232.1 699.3 L1233.8 697.7 L1235.4 699.4 L1237.1 698.0 L1238.7 699.4 L1261.8 699.5 L1263.5 698.4 L1265.1 698.3 L1266.8 699.5 L1268.4 698.1 L1270.1 699.6 L1293.2 699.6 L1294.8 698.5 L1296.5 699.6 L1298.1 699.6 L1299.8 698.0 L1301.4 699.6 L1346.0 699.6 L1347.6 698.5 L1349.3 699.6 L1360.8 699.6 L1362.5 698.5 L1363.8 699.6 L1374.8 696.6 L1380.2 695.4 L1381.9 694.9 L1383.5 694.4 L1386.3 693.3 L1387.6 692.6 L1388.9 691.9 L1390.1 691.1 L1391.3 690.2 L1392.4 689.1 L1393.5 688.0 L1395.6 685.6 L1397.5 683.1 L1398.4 681.8 L1399.2 680.4 L1400.0 679.1 L1400.5 677.8 L1401.0 676.5 L1402.1 672.5 L1402.6 670.5 L1403.5 666.1 L1404.7 659.3 L1407.4 641.8 L1409.0 633.1 L1410.0 628.7 L1411.7 621.9 L1413.8 614.8 L1414.3 613.4 L1414.7 612.2 L1415.3 611.2 L1416.1 610.1 L1416.5 609.6 L1416.9 609.2 L1417.5 609.0 L1418.3 608.7 L1419.2 608.5 L1420.2 608.5 L1421.1 608.6 L1421.9 609.0 L1422.5 609.8 L1422.9 611.0 L1423.8 615.5 L1426.8 629.1 L1429.1 639.6 L1431.3 648.4 L1435.7 663.7 L1440.2 678.5 L1440.9 680.4 L1442.3 684.2 L1443.1 686.1 L1444.0 687.9 L1444.9 689.6 L1446.0 691.1 L1446.9 692.2 L1447.9 693.1 L1449.0 693.9 L1450.2 694.7 L1451.4 695.5 L1453.2 696.4 L1455.1 697.2 L1461.3 699.6 L1461.8 699.6 L1463.4 698.2 L1465.1 699.6 L1481.6 699.6 L1483.2 698.1 L1484.9 698.5 L1486.5 699.6 L1488.2 699.6 L1489.8 698.4 L1491.5 699.6 L1501.4 699.6 L1503.0 698.6 L1504.7 699.6 L1508.0 699.6 L1509.6 697.8 L1511.3 698.4 L1512.9 699.6 L1519.5 699.6 L1521.2 698.1 L1522.8 699.6 L1524.5 698.5 L1526.1 699.6 L1527.8 698.5 L1529.4 699.6 L1532.7 699.6 L1534.4 697.8 L1536.0 699.6 L1541.0 699.6 L1542.6 697.8 L1544.3 699.6 L1549.2 699.6 L1550.9 698.6 L1552.5 699.6 L1569.0 699.6 L1570.7 698.4 L1572.3 699.6 L1582.2 699.6 L1583.9 698.3 L1585.5 698.3 L1587.2 698.6 L1588.8 699.6 L1595.4 699.6 L1597.1 698.4 L1598.7 699.6 L1603.7 699.6 L1605.3 698.4 L1607.0 699.6 L1610.3 699.6 L1611.9 698.2 L1613.6 699.6 L1615.2 699.6 L1616.9 698.3 L1618.5 699.6 L1625.1 699.6 L1626.8 698.4 L1628.4 699.6 L1630.1 698.1 L1631.7 700.5 L1633.4 699.6 L1640.0 699.6 L1641.6 698.0 L1643.3 699.6 L1644.9 699.6 L1646.6 697.8 L1648.2 699.6 L1671.3 699.6 L1673.0 698.1 L1674.6 699.6 L1676.3 698.3 L1677.9 699.6 L1689.5 699.6 L1691.1 700.5 L1692.8 697.9 L1694.4 699.6 L1697.7 699.6 L1699.4 698.2 L1701.0 699.6 L1709.3 699.6 L1710.9 698.3 L1712.6 699.6 L1714.2 699.6 L1715.9 700.5 L1717.5 699.6 L1725.8 699.6 L1727.4 698.0 L1729.1 700.5 L1730.7 699.6 L1732.4 699.6 L1734.0 698.0 L1735.7 699.6 L1737.3 699.6 L1739.0 697.9 L1740.6 699.6 L1750.5 699.6 L1752.2 700.5 L1753.8 699.6 L1755.5 698.6 L1757.1 699.6 L1758.8 698.0 L1760.4 699.6 L1775.3 699.6 L1776.9 700.5 L1778.5 699.6" stroke="#FC8C00" transform="translate(0 0.45)"/>
<path d="M125.6 904.2 L150.4 904.2 L152.0 905.1 L153.7 904.2 L204.8 904.2 L206.5 903.2 L208.1 904.2 L218.0 904.2 L219.7 903.0 L221.3 904.2 L224.6 904.2 L226.3 902.9 L227.9 903.1 L229.6 904.2 L241.1 904.2 L242.8 902.5 L244.4 904.2 L274.1 904.2 L275.8 902.9 L277.4 904.2 L302.2 904.2 L303.8 903.1 L305.5 904.2 L312.1 904.2 L313.7 902.6 L315.4 904.2 L345.1 904.2 L346.7 902.6 L348.4 903.0 L350.0 904.2 L381.4 904.2 L383.0 902.9 L384.7 904.2 L409.4 904.2 L411.1 905.1 L412.7 904.2 L422.6 904.2 L424.3 902.6 L425.9 904.2 L435.8 904.2 L437.5 903.1 L439.1 904.2 L452.3 904.2 L454.0 902.4 L455.6 904.2 L460.6 904.2 L462.2 905.1 L463.9 904.2 L477.1 904.2 L478.7 902.5 L480.4 904.2 L490.3 904.2 L491.9 905.1 L493.6 904.2 L506.8 904.2 L508.4 902.7 L510.1 904.2 L534.8 904.2 L536.5 902.6 L538.1 904.2 L549.7 904.2 L551.3 902.9 L553.0 904.2 L586.0 904.2 L587.6 903.1 L589.3 904.2 L604.1 904.2 L605.8 902.5 L607.4 904.2 L623.9 904.2 L625.6 905.1 L627.2 902.8 L628.9 904.2 L673.4 904.2 L675.1 902.8 L676.7 904.1 L686.6 904.1 L688.3 902.7 L689.9 904.1 L691.6 902.7 L693.2 904.1 L703.1 904.0 L706.4 903.8 L708.1 903.7 L709.7 901.8 L711.4 903.3 L713.0 903.0 L714.7 902.7 L716.3 902.3 L718.0 900.8 L719.6 901.4 L722.9 900.4 L724.6 900.0 L726.2 899.8 L727.9 899.7 L729.5 899.8 L731.2 900.1 L732.8 900.5 L737.8 902.0 L741.1 902.8 L742.7 903.1 L746.0 903.6 L749.3 903.8 L752.0 904.0 L758.1 902.7 L760.1 902.4 L762.0 902.2 L763.6 902.2 L768.3 902.4 L770.0 902.4 L772.5 902.2 L775.3 901.9 L778.2 901.5 L781.1 900.9 L783.8 900.3 L786.5 899.7 L789.1 899.0 L791.7 898.1 L794.1 897.2 L796.3 896.2 L797.9 895.2 L799.4 894.2 L800.7 893.1 L802.0 891.9 L803.2 890.6 L804.5 889.3 L805.7 887.8 L806.8 886.2 L807.9 884.7 L808.8 883.0 L809.4 881.4 L810.0 879.8 L812.2 870.7 L813.9 862.3 L818.7 833.2 L821.1 816.4 L821.8 812.4 L822.8 808.0 L824.1 802.9 L824.3 802.3 L824.7 802.1 L825.1 802.2 L825.7 802.8 L826.3 803.6 L826.9 804.5 L827.4 805.5 L828.1 807.2 L828.6 809.2 L830.0 815.9 L839.8 863.7 L840.8 867.8 L841.9 872.0 L843.1 876.2 L845.1 881.9 L845.8 883.8 L846.6 885.5 L847.5 887.2 L848.5 888.7 L849.5 890.2 L850.6 891.6 L851.8 893.0 L853.0 894.1 L854.2 895.0 L855.4 895.8 L856.6 896.5 L857.9 897.1 L859.3 897.6 L860.7 897.9 L862.3 898.1 L863.8 898.2 L866.9 898.3 L868.3 898.2 L869.7 898.0 L871.1 897.8 L872.5 897.6 L873.8 897.2 L874.9 896.8 L876.0 896.4 L878.0 895.4 L880.3 894.0 L881.6 893.1 L882.9 892.1 L884.1 891.1 L885.2 889.9 L886.2 888.7 L887.1 887.4 L887.9 886.0 L888.7 884.5 L889.4 883.0 L890.0 881.5 L890.5 879.8 L892.8 870.7 L894.6 862.3 L896.5 851.9 L900.1 824.9 L900.7 818.8 L901.2 812.4 L901.8 796.4 L903.1 777.1 L904.0 758.3 L905.1 742.5 L906.2 723.7 L906.9 716.1 L907.9 708.3 L909.1 701.2 L909.4 700.0 L909.7 699.5 L910.0 700.0 L910.4 701.2 L911.8 708.4 L912.8 714.7 L913.5 721.0 L915.1 737.6 L917.3 767.3 L923.9 828.9 L926.1 854.0 L927.0 862.4 L927.7 867.8 L928.5 872.1 L929.3 876.2 L931.1 883.7 L931.6 885.5 L932.3 887.2 L933.1 888.7 L934.0 890.2 L934.9 891.6 L936.0 892.9 L937.1 894.1 L938.3 895.1 L939.5 896.0 L943.4 898.3 L946.8 900.5 L948.1 901.2 L949.6 901.7 L952.9 902.1 L957.2 902.1 L961.7 902.0 L965.6 901.9 L968.3 902.4 L968.8 902.8 L969.2 903.2 L969.5 903.7 L969.8 904.2 L970.3 904.5 L971.8 904.7 L973.7 904.7 L978.0 904.2 L980.5 904.0 L985.5 903.8 L988.8 903.6 L990.4 903.4 L992.1 903.1 L993.7 902.7 L995.4 902.2 L1002.0 899.9 L1003.6 899.4 L1005.3 899.2 L1006.9 899.2 L1008.6 899.5 L1010.2 899.9 L1015.2 901.7 L1016.8 902.3 L1018.5 902.7 L1020.1 903.1 L1021.8 903.4 L1023.4 903.6 L1026.7 903.8 L1028.4 903.9 L1030.0 904.8 L1031.7 904.0 L1061.4 904.0 L1063.0 902.7 L1064.7 904.0 L1072.9 903.9 L1074.6 904.8 L1076.2 903.8 L1079.5 903.6 L1081.2 903.5 L1082.8 903.2 L1084.5 901.7 L1086.1 902.5 L1087.8 902.0 L1089.4 901.5 L1091.1 900.8 L1096.0 898.5 L1097.7 897.8 L1099.3 896.1 L1101.0 895.9 L1102.6 897.3 L1104.3 897.7 L1105.9 898.4 L1107.6 899.3 L1109.2 901.0 L1110.9 901.0 L1112.5 901.7 L1114.2 902.3 L1115.8 902.8 L1117.5 903.2 L1119.1 903.4 L1122.4 903.7 L1127.4 903.9 L1129.0 902.4 L1130.7 904.0 L1132.3 902.6 L1134.0 904.0 L1138.9 904.0 L1140.6 902.3 L1142.2 904.1 L1147.2 904.1 L1148.8 902.9 L1150.5 904.1 L1171.9 904.0 L1176.9 903.8 L1180.2 903.5 L1183.5 903.0 L1186.8 902.4 L1191.7 901.2 L1193.4 900.9 L1195.0 900.7 L1196.7 900.7 L1198.3 899.6 L1200.0 901.1 L1203.3 902.1 L1204.9 901.4 L1206.6 902.9 L1208.2 903.3 L1209.9 903.5 L1213.2 903.9 L1233.0 904.1 L1234.6 902.4 L1236.3 904.1 L1249.5 904.2 L1251.1 902.9 L1252.8 904.2 L1261.0 904.2 L1262.7 905.1 L1264.3 904.2 L1325.4 904.2 L1341.9 904.2 L1342.7 902.9 L1343.0 902.5 L1343.5 902.1 L1346.8 901.6 L1351.9 901.8 L1357.7 902.2 L1363.2 902.4 L1367.1 902.1 L1368.2 901.8 L1369.1 901.3 L1370.6 900.3 L1371.5 899.9 L1372.9 899.7 L1374.4 899.6 L1377.6 899.6 L1379.1 899.4 L1381.9 898.7 L1383.2 898.3 L1384.5 897.8 L1385.7 897.2 L1386.9 896.4 L1388.0 895.5 L1390.1 893.6 L1391.2 892.8 L1392.3 892.2 L1394.5 891.3 L1395.6 890.8 L1396.7 890.1 L1397.9 888.9 L1399.0 887.4 L1401.1 884.3 L1402.1 883.0 L1403.9 880.9 L1404.7 880.0 L1405.6 879.2 L1406.5 878.6 L1407.4 878.3 L1408.2 878.1 L1409.1 878.0 L1410.0 878.0 L1410.9 878.0 L1411.8 878.2 L1412.7 878.4 L1413.6 878.7 L1414.4 879.1 L1415.3 879.7 L1416.4 880.8 L1417.5 882.3 L1419.6 885.8 L1420.8 887.3 L1422.0 888.7 L1424.6 891.4 L1428.7 895.1 L1431.3 897.4 L1435.6 900.7 L1436.4 901.3 L1437.2 901.7 L1438.3 902.1 L1440.6 902.4 L1443.6 902.2 L1446.8 901.9 L1449.5 901.8 L1451.4 902.1 L1451.9 902.5 L1452.3 902.9 L1453.1 904.2 L1455.2 904.2 L1456.9 902.4 L1458.5 904.2 L1488.2 904.2 L1489.9 902.9 L1491.5 904.2 L1498.1 904.2 L1499.8 902.5 L1501.4 904.2 L1506.4 904.2 L1508.0 903.0 L1509.7 904.2 L1537.7 904.2 L1539.4 905.1 L1541.0 904.2 L1544.3 904.2 L1546.0 902.9 L1547.6 904.2 L1597.1 904.2 L1598.8 903.1 L1600.4 904.2 L1613.6 904.2 L1615.3 902.7 L1616.9 904.2 L1623.5 904.2 L1625.2 902.6 L1626.8 904.2 L1674.7 904.2 L1676.3 902.5 L1678.0 904.2 L1739.0 904.2 L1753.9 904.2 L1755.5 905.1 L1757.2 904.2 L1778.5 904.2" stroke="#0AA510" transform="translate(0 -0.45)"/>
<path d="M125.6 904.2 L150.4 904.2 L152.0 905.1 L153.7 904.2 L204.8 904.2 L206.5 903.2 L208.1 904.2 L218.0 904.2 L219.7 903.0 L221.3 904.2 L224.6 904.2 L226.3 902.9 L227.9 903.1 L229.6 904.2 L241.1 904.2 L242.8 902.5 L244.4 904.2 L274.1 904.2 L275.8 902.9 L277.4 904.2 L302.2 904.2 L303.8 903.1 L305.5 904.2 L312.1 904.2 L313.7 902.6 L315.4 904.2 L345.1 904.2 L346.7 902.6 L348.4 903.0 L350.0 904.2 L381.4 904.2 L383.0 902.9 L384.7 904.2 L409.4 904.2 L411.1 905.1 L412.7 904.2 L422.6 904.2 L424.3 902.6 L425.9 904.2 L435.8 904.2 L437.5 903.1 L439.1 904.2 L452.3 904.2 L454.0 902.4 L455.6 904.2 L460.6 904.2 L462.2 905.1 L463.9 904.2 L477.1 904.2 L478.7 902.5 L480.4 904.2 L490.3 904.2 L491.9 905.1 L493.6 904.2 L506.8 904.2 L508.4 902.7 L510.1 904.2 L534.8 904.2 L536.5 902.6 L538.1 904.2 L549.7 904.2 L551.3 902.9 L553.0 904.2 L586.0 904.2 L587.6 903.1 L589.3 904.2 L604.1 904.2 L605.8 902.5 L607.4 904.2 L623.9 904.2 L625.6 905.1 L627.2 902.8 L628.9 904.2 L673.4 904.2 L675.1 902.8 L676.7 904.1 L686.6 904.1 L688.3 902.7 L689.9 904.1 L691.6 902.7 L693.2 904.1 L703.1 904.0 L706.4 903.8 L708.1 903.7 L709.7 901.8 L711.4 903.3 L713.0 903.0 L714.7 902.7 L716.3 902.3 L718.0 900.8 L719.6 901.4 L722.9 900.4 L724.6 900.0 L726.2 899.8 L727.9 899.7 L729.5 899.8 L731.2 900.1 L732.8 900.5 L737.8 902.0 L741.1 902.8 L742.7 903.1 L746.0 903.6 L749.3 903.8 L752.0 904.0 L758.1 902.7 L760.1 902.4 L762.0 902.2 L763.6 902.2 L768.3 902.4 L770.0 902.4 L772.5 902.2 L775.3 901.9 L778.2 901.5 L781.1 900.9 L783.8 900.3 L786.5 899.7 L789.1 899.0 L791.7 898.1 L794.1 897.2 L796.3 896.2 L797.9 895.2 L799.4 894.2 L800.7 893.1 L802.0 891.9 L803.2 890.6 L804.5 889.3 L805.7 887.8 L806.8 886.2 L807.9 884.7 L808.8 883.0 L809.4 881.4 L810.0 879.8 L812.2 870.7 L813.9 862.3 L818.7 833.2 L821.1 816.4 L821.8 812.4 L822.8 808.0 L824.1 802.9 L824.3 802.3 L824.7 802.1 L825.1 802.2 L825.7 802.8 L826.3 803.6 L826.9 804.5 L827.4 805.5 L828.1 807.2 L828.6 809.2 L830.0 815.9 L839.8 863.7 L840.8 867.8 L841.9 872.0 L843.1 876.2 L845.1 881.9 L845.8 883.8 L846.6 885.5 L847.5 887.2 L848.5 888.7 L849.5 890.2 L850.6 891.6 L851.8 893.0 L853.0 894.1 L854.2 895.0 L855.4 895.8 L856.6 896.5 L857.9 897.1 L859.3 897.6 L860.7 897.9 L862.3 898.1 L863.8 898.2 L866.9 898.3 L868.3 898.2 L869.7 898.0 L871.1 897.8 L872.5 897.6 L873.8 897.2 L874.9 896.8 L876.0 896.4 L878.0 895.4 L880.3 894.0 L881.6 893.1 L882.9 892.1 L884.1 891.1 L885.2 889.9 L886.2 888.7 L887.1 887.4 L887.9 886.0 L888.7 884.5 L889.4 883.0 L890.0 881.5 L890.5 879.8 L892.8 870.7 L894.6 862.3 L896.5 851.9 L900.1 824.9 L900.7 818.8 L901.2 812.4 L901.8 796.4 L903.1 777.1 L904.0 758.3 L905.1 742.5 L906.2 723.7 L906.9 716.1 L907.9 708.3 L909.1 701.2 L909.4 700.0 L909.7 699.5 L910.0 700.0 L910.4 701.2 L911.8 708.4 L912.8 714.7 L913.5 721.0 L915.1 737.6 L917.3 767.3 L923.9 828.9 L926.1 854.0 L927.0 862.4 L927.7 867.8 L928.5 872.1 L929.3 876.2 L931.1 883.7 L931.6 885.5 L932.3 887.2 L933.1 888.7 L934.0 890.2 L934.9 891.6 L936.0 892.9 L937.1 894.1 L938.3 895.1 L939.5 896.0 L943.4 898.3 L946.8 900.5 L948.1 901.2 L949.6 901.7 L952.9 902.1 L957.2 902.1 L961.7 902.0 L965.6 901.9 L968.3 902.4 L968.8 902.8 L969.2 903.2 L969.5 903.7 L969.8 904.2 L970.3 904.5 L971.8 904.7 L973.7 904.7 L978.0 904.2 L980.5 904.0 L985.5 903.8 L988.8 903.6 L990.4 903.4 L992.1 903.1 L993.7 902.7 L995.4 902.2 L1002.0 899.9 L1003.6 899.4 L1005.3 899.2 L1006.9 899.2 L1008.6 899.5 L1010.2 899.9 L1015.2 901.7 L1016.8 902.3 L1018.5 902.7 L1020.1 903.1 L1021.8 903.4 L1023.4 903.6 L1026.7 903.8 L1028.4 903.9 L1030.0 904.8 L1031.7 904.0 L1061.4 904.0 L1063.0 902.7 L1064.7 904.0 L1072.9 903.9 L1074.6 904.8 L1076.2 903.8 L1079.5 903.6 L1081.2 903.5 L1082.8 903.2 L1084.5 901.7 L1086.1 902.5 L1087.8 902.0 L1089.4 901.5 L1091.1 900.8 L1096.0 898.5 L1097.7 897.8 L1099.3 896.1 L1101.0 895.9 L1102.6 897.3 L1104.3 897.7 L1105.9 898.4 L1107.6 899.3 L1109.2 901.0 L1110.9 901.0 L1112.5 901.7 L1114.2 902.3 L1115.8 902.8 L1117.5 903.2 L1119.1 903.4 L1122.4 903.7 L1127.4 903.9 L1129.0 902.4 L1130.7 904.0 L1132.3 902.6 L1134.0 904.0 L1138.9 904.0 L1140.6 902.3 L1142.2 904.1 L1147.2 904.1 L1148.8 902.9 L1150.5 904.1 L1171.9 904.0 L1176.9 903.8 L1180.2 903.5 L1183.5 903.0 L1186.8 902.4 L1191.7 901.2 L1193.4 900.9 L1195.0 900.7 L1196.7 900.7 L1198.3 899.6 L1200.0 901.1 L1203.3 902.1 L1204.9 901.4 L1206.6 902.9 L1208.2 903.3 L1209.9 903.5 L1213.2 903.9 L1233.0 904.1 L1234.6 902.4 L1236.3 904.1 L1249.5 904.2 L1251.1 902.9 L1252.8 904.2 L1261.0 904.2 L1262.7 905.1 L1264.3 904.2 L1325.4 904.2 L1341.9 904.2 L1342.7 902.9 L1343.0 902.5 L1343.5 902.1 L1346.8 901.6 L1351.9 901.8 L1357.7 902.2 L1363.2 902.4 L1367.1 902.1 L1368.2 901.8 L1369.1 901.3 L1370.6 900.3 L1371.5 899.9 L1372.9 899.7 L1374.4 899.6 L1377.6 899.6 L1379.1 899.4 L1381.9 898.7 L1383.2 898.3 L1384.5 897.8 L1385.7 897.2 L1386.9 896.4 L1388.0 895.5 L1390.1 893.6 L1391.2 892.8 L1392.3 892.2 L1394.5 891.3 L1395.6 890.8 L1396.7 890.1 L1397.9 888.9 L1399.0 887.4 L1401.1 884.3 L1402.1 883.0 L1403.9 880.9 L1404.7 880.0 L1405.6 879.2 L1406.5 878.6 L1407.4 878.3 L1408.2 878.1 L1409.1 878.0 L1410.0 878.0 L1410.9 878.0 L1411.8 878.2 L1412.7 878.4 L1413.6 878.7 L1414.4 879.1 L1415.3 879.7 L1416.4 880.8 L1417.5 882.3 L1419.6 885.8 L1420.8 887.3 L1422.0 888.7 L1424.6 891.4 L1428.7 895.1 L1431.3 897.4 L1435.6 900.7 L1436.4 901.3 L1437.2 901.7 L1438.3 902.1 L1440.6 902.4 L1443.6 902.2 L1446.8 901.9 L1449.5 901.8 L1451.4 902.1 L1451.9 902.5 L1452.3 902.9 L1453.1 904.2 L1455.2 904.2 L1456.9 902.4 L1458.5 904.2 L1488.2 904.2 L1489.9 902.9 L1491.5 904.2 L1498.1 904.2 L1499.8 902.5 L1501.4 904.2 L1506.4 904.2 L1508.0 903.0 L1509.7 904.2 L1537.7 904.2 L1539.4 905.1 L1541.0 904.2 L1544.3 904.2 L1546.0 902.9 L1547.6 904.2 L1597.1 904.2 L1598.8 903.1 L1600.4 904.2 L1613.6 904.2 L1615.3 902.7 L1616.9 904.2 L1623.5 904.2 L1625.2 902.6 L1626.8 904.2 L1674.7 904.2 L1676.3 902.5 L1678.0 904.2 L1739.0 904.2 L1753.9 904.2 L1755.5 905.1 L1757.2 904.2 L1778.5 904.2" stroke="#0AA510" transform="translate(0 0.45)"/>
<path d="M125.6 1110.0 L186.7 1110.0 L247.7 1110.0 L308.8 1110.0 L369.8 1110.0 L430.9 1110.0 L491.9 1110.0 L553.0 1110.0 L614.0 1110.0 L675.1 1110.0 L736.1 1110.0 L786.5 1110.0 L787.3 1108.8 L787.6 1108.4 L788.1 1108.1 L790.3 1107.7 L793.4 1107.8 L797.0 1108.1 L800.5 1108.2 L803.2 1107.9 L804.6 1107.5 L805.7 1107.0 L806.8 1106.4 L807.8 1105.7 L808.8 1104.9 L809.7 1104.1 L810.6 1103.2 L811.4 1102.2 L812.2 1101.2 L812.9 1100.1 L813.6 1098.8 L814.1 1097.5 L815.6 1093.2 L820.2 1081.6 L822.0 1077.6 L822.5 1076.8 L822.9 1076.2 L823.3 1076.0 L823.7 1076.3 L824.1 1076.9 L825.4 1079.7 L825.9 1081.1 L826.9 1084.3 L827.5 1085.9 L828.1 1087.3 L828.9 1088.5 L829.7 1089.6 L832.3 1092.5 L835.1 1095.2 L835.7 1095.9 L836.4 1097.0 L838.5 1101.5 L840.1 1104.6 L840.7 1105.5 L841.3 1106.3 L842.2 1107.3 L842.7 1107.6 L843.3 1108.0 L844.0 1108.3 L848.3 1108.9 L854.7 1109.1 L861.8 1109.0 L868.2 1108.7 L872.4 1108.3 L873.8 1108.0 L875.6 1107.2 L876.9 1106.3 L880.9 1104.5 L882.5 1103.7 L883.8 1102.9 L885.1 1101.9 L886.3 1100.9 L887.4 1099.8 L888.5 1098.6 L889.4 1097.3 L890.2 1095.9 L890.8 1094.5 L893.0 1088.0 L894.1 1084.4 L895.0 1080.7 L895.9 1076.6 L897.2 1068.3 L899.5 1049.6 L900.6 1037.8 L901.1 1030.4 L901.4 1025.4 L901.7 1004.2 L902.0 999.1 L902.8 986.8 L903.1 981.6 L903.3 967.8 L905.0 930.4 L905.7 919.3 L905.9 916.0 L906.2 912.9 L906.6 910.4 L907.1 907.6 L907.4 906.4 L907.7 905.5 L907.9 905.2 L908.2 905.5 L908.5 906.4 L909.2 910.4 L909.7 913.7 L910.2 919.4 L910.5 924.7 L911.1 944.5 L911.3 948.9 L912.7 960.9 L914.0 981.4 L914.5 986.6 L917.1 998.9 L920.1 1020.9 L921.3 1032.3 L924.7 1071.2 L925.7 1080.2 L926.2 1084.2 L926.9 1087.9 L927.7 1091.4 L929.1 1096.7 L929.5 1098.5 L930.1 1100.1 L930.9 1101.5 L931.7 1102.5 L932.6 1103.4 L933.6 1104.3 L934.7 1105.0 L935.7 1105.6 L936.9 1106.2 L938.0 1106.7 L939.2 1107.1 L940.5 1107.4 L942.0 1107.7 L945.0 1107.9 L948.8 1107.8 L952.7 1107.7 L956.2 1107.7 L958.6 1108.1 L959.2 1108.4 L959.6 1108.8 L960.7 1110.0 L1022.2 1110.0 L1083.3 1110.0 L1144.3 1110.0 L1205.4 1110.0 L1266.4 1110.0 L1327.5 1110.0 L1383.5 1110.0 L1384.3 1108.6 L1384.7 1108.2 L1385.2 1107.9 L1386.8 1107.6 L1389.2 1107.7 L1391.8 1108.0 L1394.4 1108.1 L1396.7 1107.9 L1398.1 1107.3 L1399.5 1106.6 L1402.0 1104.8 L1407.3 1101.5 L1408.6 1100.7 L1409.8 1100.2 L1411.2 1099.8 L1411.8 1099.7 L1412.4 1099.6 L1413.1 1099.6 L1414.1 1099.8 L1415.2 1100.0 L1416.4 1100.3 L1417.5 1100.8 L1418.6 1101.3 L1419.5 1101.9 L1422.0 1104.4 L1423.0 1105.1 L1424.2 1105.7 L1425.5 1106.2 L1430.5 1107.6 L1432.4 1107.9 L1433.2 1108.1 L1433.9 1108.4 L1434.3 1108.7 L1435.6 1110.0 L1497.1 1110.0 L1558.2 1110.0 L1619.2 1110.0 L1680.3 1110.0 L1741.3 1110.0 L1778.5 1110.0" stroke="#0010CC" transform="translate(0 -0.45)"/>
<path d="M125.6 1110.0 L186.7 1110.0 L247.7 1110.0 L308.8 1110.0 L369.8 1110.0 L430.9 1110.0 L491.9 1110.0 L553.0 1110.0 L614.0 1110.0 L675.1 1110.0 L736.1 1110.0 L786.5 1110.0 L787.3 1108.8 L787.6 1108.4 L788.1 1108.1 L790.3 1107.7 L793.4 1107.8 L797.0 1108.1 L800.5 1108.2 L803.2 1107.9 L804.6 1107.5 L805.7 1107.0 L806.8 1106.4 L807.8 1105.7 L808.8 1104.9 L809.7 1104.1 L810.6 1103.2 L811.4 1102.2 L812.2 1101.2 L812.9 1100.1 L813.6 1098.8 L814.1 1097.5 L815.6 1093.2 L820.2 1081.6 L822.0 1077.6 L822.5 1076.8 L822.9 1076.2 L823.3 1076.0 L823.7 1076.3 L824.1 1076.9 L825.4 1079.7 L825.9 1081.1 L826.9 1084.3 L827.5 1085.9 L828.1 1087.3 L828.9 1088.5 L829.7 1089.6 L832.3 1092.5 L835.1 1095.2 L835.7 1095.9 L836.4 1097.0 L838.5 1101.5 L840.1 1104.6 L840.7 1105.5 L841.3 1106.3 L842.2 1107.3 L842.7 1107.6 L843.3 1108.0 L844.0 1108.3 L848.3 1108.9 L854.7 1109.1 L861.8 1109.0 L868.2 1108.7 L872.4 1108.3 L873.8 1108.0 L875.6 1107.2 L876.9 1106.3 L880.9 1104.5 L882.5 1103.7 L883.8 1102.9 L885.1 1101.9 L886.3 1100.9 L887.4 1099.8 L888.5 1098.6 L889.4 1097.3 L890.2 1095.9 L890.8 1094.5 L893.0 1088.0 L894.1 1084.4 L895.0 1080.7 L895.9 1076.6 L897.2 1068.3 L899.5 1049.6 L900.6 1037.8 L901.1 1030.4 L901.4 1025.4 L901.7 1004.2 L902.0 999.1 L902.8 986.8 L903.1 981.6 L903.3 967.8 L905.0 930.4 L905.7 919.3 L905.9 916.0 L906.2 912.9 L906.6 910.4 L907.1 907.6 L907.4 906.4 L907.7 905.5 L907.9 905.2 L908.2 905.5 L908.5 906.4 L909.2 910.4 L909.7 913.7 L910.2 919.4 L910.5 924.7 L911.1 944.5 L911.3 948.9 L912.7 960.9 L914.0 981.4 L914.5 986.6 L917.1 998.9 L920.1 1020.9 L921.3 1032.3 L924.7 1071.2 L925.7 1080.2 L926.2 1084.2 L926.9 1087.9 L927.7 1091.4 L929.1 1096.7 L929.5 1098.5 L930.1 1100.1 L930.9 1101.5 L931.7 1102.5 L932.6 1103.4 L933.6 1104.3 L934.7 1105.0 L935.7 1105.6 L936.9 1106.2 L938.0 1106.7 L939.2 1107.1 L940.5 1107.4 L942.0 1107.7 L945.0 1107.9 L948.8 1107.8 L952.7 1107.7 L956.2 1107.7 L958.6 1108.1 L959.2 1108.4 L959.6 1108.8 L960.7 1110.0 L1022.2 1110.0 L1083.3 1110.0 L1144.3 1110.0 L1205.4 1110.0 L1266.4 1110.0 L1327.5 1110.0 L1383.5 1110.0 L1384.3 1108.6 L1384.7 1108.2 L1385.2 1107.9 L1386.8 1107.6 L1389.2 1107.7 L1391.8 1108.0 L1394.4 1108.1 L1396.7 1107.9 L1398.1 1107.3 L1399.5 1106.6 L1402.0 1104.8 L1407.3 1101.5 L1408.6 1100.7 L1409.8 1100.2 L1411.2 1099.8 L1411.8 1099.7 L1412.4 1099.6 L1413.1 1099.6 L1414.1 1099.8 L1415.2 1100.0 L1416.4 1100.3 L1417.5 1100.8 L1418.6 1101.3 L1419.5 1101.9 L1422.0 1104.4 L1423.0 1105.1 L1424.2 1105.7 L1425.5 1106.2 L1430.5 1107.6 L1432.4 1107.9 L1433.2 1108.1 L1433.9 1108.4 L1434.3 1108.7 L1435.6 1110.0 L1497.1 1110.0 L1558.2 1110.0 L1619.2 1110.0 L1680.3 1110.0 L1741.3 1110.0 L1778.5 1110.0" stroke="#0010CC" transform="translate(0 0.45)"/>
<path d="M125.6 1315.0 L161.9 1315.0 L163.6 1315.9 L165.2 1315.0 L226.3 1315.0 L244.4 1315.0 L246.1 1313.6 L247.7 1315.0 L308.8 1315.0 L369.8 1315.0 L404.5 1315.0 L406.1 1313.3 L407.8 1315.0 L429.2 1315.0 L430.9 1313.5 L432.5 1315.0 L472.1 1315.0 L473.8 1313.5 L475.4 1315.0 L520.0 1315.0 L521.6 1313.3 L523.3 1315.0 L572.8 1315.0 L574.4 1313.0 L576.1 1315.0 L582.7 1315.0 L584.3 1313.0 L586.0 1315.0 L590.9 1315.0 L592.6 1313.0 L594.2 1315.0 L600.8 1315.0 L602.5 1313.0 L604.1 1315.0 L605.8 1313.0 L609.1 1313.0 L610.7 1315.0 L612.4 1313.0 L614.0 1315.0 L615.7 1313.0 L617.3 1313.0 L619.0 1315.0 L620.6 1313.0 L623.9 1313.0 L625.6 1315.0 L627.2 1313.0 L628.9 1315.0 L630.5 1315.0 L632.2 1313.0 L633.8 1315.0 L635.5 1313.0 L637.1 1315.0 L640.4 1315.0 L642.1 1313.0 L643.7 1313.0 L645.4 1315.0 L647.0 1315.0 L648.7 1313.0 L658.6 1313.0 L660.2 1315.0 L661.9 1315.0 L663.5 1313.0 L671.8 1313.0 L673.4 1314.2 L675.1 1313.0 L696.5 1313.0 L698.2 1311.5 L699.8 1313.0 L760.9 1313.0 L790.8 1313.0 L791.9 1311.8 L792.3 1311.4 L792.8 1311.1 L794.0 1310.8 L795.4 1310.7 L796.9 1310.7 L798.4 1310.6 L799.8 1310.3 L800.8 1309.8 L801.9 1309.2 L802.9 1308.5 L803.8 1307.7 L804.6 1306.8 L805.4 1305.7 L806.2 1304.5 L806.8 1303.3 L808.1 1300.6 L808.7 1299.0 L809.2 1297.4 L811.1 1290.5 L812.3 1285.1 L813.1 1281.2 L815.6 1266.3 L816.5 1262.2 L817.8 1257.1 L819.5 1252.1 L819.8 1251.1 L820.2 1250.4 L820.5 1250.2 L820.9 1250.5 L821.2 1251.3 L827.6 1272.1 L830.3 1280.0 L835.1 1293.6 L836.6 1298.8 L837.2 1300.4 L837.8 1301.9 L839.1 1304.4 L839.8 1305.5 L840.5 1306.5 L842.6 1309.1 L843.4 1309.8 L844.3 1310.4 L845.4 1310.9 L849.5 1311.7 L855.1 1311.9 L861.3 1311.8 L867.0 1311.4 L871.0 1310.9 L872.1 1310.7 L873.1 1310.5 L873.9 1310.2 L875.2 1309.6 L875.9 1309.1 L881.0 1304.7 L882.5 1303.3 L883.8 1301.9 L886.0 1299.5 L887.0 1298.3 L887.9 1297.0 L888.7 1295.7 L889.3 1294.4 L889.8 1293.1 L891.6 1287.1 L893.0 1281.7 L893.8 1277.8 L895.2 1269.4 L896.8 1257.0 L900.6 1216.3 L901.2 1209.2 L903.3 1171.8 L904.4 1145.0 L905.2 1132.6 L906.0 1124.3 L906.4 1121.2 L906.8 1118.3 L907.3 1115.7 L908.1 1112.4 L908.6 1111.0 L909.0 1109.9 L909.3 1109.5 L909.6 1110.0 L909.9 1111.2 L910.5 1116.4 L910.8 1118.9 L913.2 1159.2 L913.5 1162.3 L914.8 1168.3 L915.5 1173.6 L917.1 1187.0 L919.4 1202.3 L919.9 1207.8 L920.0 1211.4 L920.0 1214.8 L920.4 1221.0 L922.4 1240.4 L924.3 1262.5 L925.2 1271.0 L925.9 1276.3 L926.9 1282.7 L927.7 1286.7 L928.8 1291.0 L930.1 1295.1 L932.1 1300.4 L932.7 1302.0 L933.5 1303.4 L934.4 1304.7 L935.3 1305.8 L936.3 1306.7 L937.5 1307.5 L938.7 1308.2 L939.9 1308.9 L941.3 1309.4 L942.9 1309.8 L946.0 1310.5 L947.5 1310.9 L948.6 1311.4 L950.7 1312.4 L951.8 1312.9 L953.0 1313.2 L955.4 1313.5 L958.1 1313.5 L964.0 1313.1 L967.4 1313.0 L1015.2 1313.0 L1016.9 1311.5 L1018.5 1313.0 L1038.3 1313.0 L1040.0 1311.7 L1041.6 1313.0 L1054.8 1313.0 L1056.5 1315.0 L1063.1 1315.0 L1064.7 1313.5 L1066.4 1315.0 L1069.7 1315.0 L1071.3 1313.3 L1073.0 1315.0 L1086.2 1315.0 L1087.8 1313.9 L1089.5 1315.0 L1122.5 1315.0 L1124.1 1313.6 L1125.8 1315.0 L1183.5 1315.0 L1185.2 1313.9 L1186.8 1315.0 L1190.1 1315.0 L1191.8 1313.3 L1193.4 1315.0 L1254.5 1315.0 L1294.1 1315.0 L1295.7 1315.9 L1297.4 1315.0 L1325.4 1315.0 L1327.1 1313.9 L1328.7 1315.0 L1354.0 1315.0 L1354.7 1313.6 L1355.0 1313.2 L1355.6 1312.9 L1359.8 1312.3 L1366.7 1312.4 L1374.8 1312.9 L1382.4 1313.2 L1387.9 1312.9 L1389.6 1312.4 L1390.9 1311.9 L1395.8 1309.5 L1398.5 1308.0 L1399.8 1307.4 L1401.1 1306.8 L1403.3 1306.2 L1404.4 1305.9 L1405.5 1305.8 L1406.5 1305.7 L1407.4 1305.8 L1408.3 1306.0 L1409.2 1306.2 L1410.9 1306.8 L1412.0 1307.4 L1419.4 1311.9 L1420.5 1312.4 L1421.9 1312.9 L1425.9 1313.2 L1431.2 1312.9 L1436.8 1312.5 L1441.7 1312.4 L1444.9 1312.9 L1445.4 1313.2 L1445.7 1313.6 L1446.5 1315.0 L1508.1 1315.0 L1521.3 1315.0 L1522.9 1315.9 L1524.6 1315.0 L1585.6 1315.0 L1615.3 1315.0 L1617.0 1314.0 L1618.6 1315.0 L1679.7 1315.0 L1740.7 1315.0 L1778.5 1315.0" stroke="#DA0000" transform="translate(0 -0.45)"/>
<path d="M125.6 1315.0 L161.9 1315.0 L163.6 1315.9 L165.2 1315.0 L226.3 1315.0 L244.4 1315.0 L246.1 1313.6 L247.7 1315.0 L308.8 1315.0 L369.8 1315.0 L404.5 1315.0 L406.1 1313.3 L407.8 1315.0 L429.2 1315.0 L430.9 1313.5 L432.5 1315.0 L472.1 1315.0 L473.8 1313.5 L475.4 1315.0 L520.0 1315.0 L521.6 1313.3 L523.3 1315.0 L572.8 1315.0 L574.4 1313.0 L576.1 1315.0 L582.7 1315.0 L584.3 1313.0 L586.0 1315.0 L590.9 1315.0 L592.6 1313.0 L594.2 1315.0 L600.8 1315.0 L602.5 1313.0 L604.1 1315.0 L605.8 1313.0 L609.1 1313.0 L610.7 1315.0 L612.4 1313.0 L614.0 1315.0 L615.7 1313.0 L617.3 1313.0 L619.0 1315.0 L620.6 1313.0 L623.9 1313.0 L625.6 1315.0 L627.2 1313.0 L628.9 1315.0 L630.5 1315.0 L632.2 1313.0 L633.8 1315.0 L635.5 1313.0 L637.1 1315.0 L640.4 1315.0 L642.1 1313.0 L643.7 1313.0 L645.4 1315.0 L647.0 1315.0 L648.7 1313.0 L658.6 1313.0 L660.2 1315.0 L661.9 1315.0 L663.5 1313.0 L671.8 1313.0 L673.4 1314.2 L675.1 1313.0 L696.5 1313.0 L698.2 1311.5 L699.8 1313.0 L760.9 1313.0 L790.8 1313.0 L791.9 1311.8 L792.3 1311.4 L792.8 1311.1 L794.0 1310.8 L795.4 1310.7 L796.9 1310.7 L798.4 1310.6 L799.8 1310.3 L800.8 1309.8 L801.9 1309.2 L802.9 1308.5 L803.8 1307.7 L804.6 1306.8 L805.4 1305.7 L806.2 1304.5 L806.8 1303.3 L808.1 1300.6 L808.7 1299.0 L809.2 1297.4 L811.1 1290.5 L812.3 1285.1 L813.1 1281.2 L815.6 1266.3 L816.5 1262.2 L817.8 1257.1 L819.5 1252.1 L819.8 1251.1 L820.2 1250.4 L820.5 1250.2 L820.9 1250.5 L821.2 1251.3 L827.6 1272.1 L830.3 1280.0 L835.1 1293.6 L836.6 1298.8 L837.2 1300.4 L837.8 1301.9 L839.1 1304.4 L839.8 1305.5 L840.5 1306.5 L842.6 1309.1 L843.4 1309.8 L844.3 1310.4 L845.4 1310.9 L849.5 1311.7 L855.1 1311.9 L861.3 1311.8 L867.0 1311.4 L871.0 1310.9 L872.1 1310.7 L873.1 1310.5 L873.9 1310.2 L875.2 1309.6 L875.9 1309.1 L881.0 1304.7 L882.5 1303.3 L883.8 1301.9 L886.0 1299.5 L887.0 1298.3 L887.9 1297.0 L888.7 1295.7 L889.3 1294.4 L889.8 1293.1 L891.6 1287.1 L893.0 1281.7 L893.8 1277.8 L895.2 1269.4 L896.8 1257.0 L900.6 1216.3 L901.2 1209.2 L903.3 1171.8 L904.4 1145.0 L905.2 1132.6 L906.0 1124.3 L906.4 1121.2 L906.8 1118.3 L907.3 1115.7 L908.1 1112.4 L908.6 1111.0 L909.0 1109.9 L909.3 1109.5 L909.6 1110.0 L909.9 1111.2 L910.5 1116.4 L910.8 1118.9 L913.2 1159.2 L913.5 1162.3 L914.8 1168.3 L915.5 1173.6 L917.1 1187.0 L919.4 1202.3 L919.9 1207.8 L920.0 1211.4 L920.0 1214.8 L920.4 1221.0 L922.4 1240.4 L924.3 1262.5 L925.2 1271.0 L925.9 1276.3 L926.9 1282.7 L927.7 1286.7 L928.8 1291.0 L930.1 1295.1 L932.1 1300.4 L932.7 1302.0 L933.5 1303.4 L934.4 1304.7 L935.3 1305.8 L936.3 1306.7 L937.5 1307.5 L938.7 1308.2 L939.9 1308.9 L941.3 1309.4 L942.9 1309.8 L946.0 1310.5 L947.5 1310.9 L948.6 1311.4 L950.7 1312.4 L951.8 1312.9 L953.0 1313.2 L955.4 1313.5 L958.1 1313.5 L964.0 1313.1 L967.4 1313.0 L1015.2 1313.0 L1016.9 1311.5 L1018.5 1313.0 L1038.3 1313.0 L1040.0 1311.7 L1041.6 1313.0 L1054.8 1313.0 L1056.5 1315.0 L1063.1 1315.0 L1064.7 1313.5 L1066.4 1315.0 L1069.7 1315.0 L1071.3 1313.3 L1073.0 1315.0 L1086.2 1315.0 L1087.8 1313.9 L1089.5 1315.0 L1122.5 1315.0 L1124.1 1313.6 L1125.8 1315.0 L1183.5 1315.0 L1185.2 1313.9 L1186.8 1315.0 L1190.1 1315.0 L1191.8 1313.3 L1193.4 1315.0 L1254.5 1315.0 L1294.1 1315.0 L1295.7 1315.9 L1297.4 1315.0 L1325.4 1315.0 L1327.1 1313.9 L1328.7 1315.0 L1354.0 1315.0 L1354.7 1313.6 L1355.0 1313.2 L1355.6 1312.9 L1359.8 1312.3 L1366.7 1312.4 L1374.8 1312.9 L1382.4 1313.2 L1387.9 1312.9 L1389.6 1312.4 L1390.9 1311.9 L1395.8 1309.5 L1398.5 1308.0 L1399.8 1307.4 L1401.1 1306.8 L1403.3 1306.2 L1404.4 1305.9 L1405.5 1305.8 L1406.5 1305.7 L1407.4 1305.8 L1408.3 1306.0 L1409.2 1306.2 L1410.9 1306.8 L1412.0 1307.4 L1419.4 1311.9 L1420.5 1312.4 L1421.9 1312.9 L1425.9 1313.2 L1431.2 1312.9 L1436.8 1312.5 L1441.7 1312.4 L1444.9 1312.9 L1445.4 1313.2 L1445.7 1313.6 L1446.5 1315.0 L1508.1 1315.0 L1521.3 1315.0 L1522.9 1315.9 L1524.6 1315.0 L1585.6 1315.0 L1615.3 1315.0 L1617.0 1314.0 L1618.6 1315.0 L1679.7 1315.0 L1740.7 1315.0 L1778.5 1315.0" stroke="#DA0000" transform="translate(0 0.45)"/>
</g>
<g fill="none">
<line x1="478.5" y1="499" x2="478.5" y2="910" stroke="#333333" stroke-width="3.8" stroke-dasharray="3.6 4.85"/>
<line x1="729.3" y1="499" x2="729.3" y2="910" stroke="#333333" stroke-width="3.8" stroke-dasharray="3.6 4.85"/>
<line x1="828.2" y1="249" x2="828.2" y2="1363" stroke="#333333" stroke-width="3.8" stroke-dasharray="3.6 4.85"/>
<line x1="911.3" y1="74.6" x2="911.3" y2="1363" stroke="#333333" stroke-width="3.8" stroke-dasharray="3.6 4.85"/>
<line x1="1012.2" y1="499" x2="1012.2" y2="910" stroke="#333333" stroke-width="3.8" stroke-dasharray="3.6 4.85"/>
<line x1="1109.0" y1="499" x2="1109.0" y2="910" stroke="#333333" stroke-width="3.8" stroke-dasharray="3.6 4.85"/>
<line x1="1208.9" y1="499" x2="1208.9" y2="910" stroke="#333333" stroke-width="3.8" stroke-dasharray="3.6 4.85"/>
<line x1="1413.4" y1="248" x2="1413.4" y2="1363" stroke="#333333" stroke-width="3.8" stroke-dasharray="3.6 4.85"/>
</g>
<g fill="none" stroke="#000" stroke-width="4.4">
<rect x="125.6" y="33.3" width="1652.9" height="1331.5"/>
<line x1="125.6" y1="1364.8" x2="125.6" y2="1391"/>
<line x1="538.8" y1="1364.8" x2="538.8" y2="1391"/>
<line x1="952.1" y1="1364.8" x2="952.1" y2="1391"/>
<line x1="1365.3" y1="1364.8" x2="1365.3" y2="1391"/>
<line x1="1778.5" y1="1364.8" x2="1778.5" y2="1391"/>
<line x1="332.2" y1="1364.8" x2="332.2" y2="1377.5"/>
<line x1="745.4" y1="1364.8" x2="745.4" y2="1377.5"/>
<line x1="1158.7" y1="1364.8" x2="1158.7" y2="1377.5"/>
<line x1="1571.9" y1="1364.8" x2="1571.9" y2="1377.5"/>
</g>
<g font-size="57" text-anchor="middle">
<text x="124.4" y="1452">35</text>
<text x="537.6" y="1452">40</text>
<text x="950.9" y="1452">45</text>
<text x="1364.1" y="1452">50</text>
<text x="1777.3" y="1452">55</text>
</g>
<text x="953.2" y="1559" font-size="70" text-anchor="middle">2θ (Degree)</text>
<text transform="translate(69.5 701) rotate(-90) scale(0.953 1)" font-size="72.8" text-anchor="middle">Intensity</text>
<g font-size="72">
<text x="1514" y="269.7">BM</text>
<text x="1514" y="471.7">S850</text>
<text x="1514" y="674.7">S850<tspan dx="-1.5">-</tspan><tspan dx="-2.5">2h</tspan></text>
<text x="1514" y="884.7">S950</text>
<text x="1514" y="1085.7">S1000</text>
<text x="1514" y="1295.7">S1150</text>
</g>
<g>
<text class="sg" transform="translate(495.2 469.0) rotate(-90) scale(0.97 1)" font-size="50.5">σ</text>
<text transform="translate(494.0 423.5) rotate(-90) scale(0.982 1)" font-size="57">(002)</text>
<text class="sg" transform="translate(750.1 469.0) rotate(-90) scale(0.97 1)" font-size="50.5">σ</text>
<text transform="translate(748.9 423.5) rotate(-90) scale(0.982 1)" font-size="57">(410)</text>
<text class="sg" transform="translate(1030.1000000000001 469.0) rotate(-90) scale(0.97 1)" font-size="50.5">σ</text>
<text transform="translate(1028.9 423.5) rotate(-90) scale(0.982 1)" font-size="57">(212)</text>
<text class="sg" transform="translate(1127.7 469.0) rotate(-90) scale(0.97 1)" font-size="50.5">σ</text>
<text transform="translate(1126.5 423.5) rotate(-90) scale(0.982 1)" font-size="57">(411)</text>
<text class="sg" transform="translate(1225.0 469.0) rotate(-90) scale(0.97 1)" font-size="50.5">σ</text>
<text transform="translate(1223.8 423.5) rotate(-90) scale(0.982 1)" font-size="57">(331)</text>
<text transform="translate(834.3 228.5) rotate(-90) scale(1.0 1)" font-size="57">γ</text>
<text transform="translate(834.3 188.3) rotate(-90) scale(0.99 1)" font-size="57">(111)</text>
<text transform="translate(1416.8 228.5) rotate(-90) scale(1.0 1)" font-size="57">γ</text>
<text transform="translate(1416.8 188.3) rotate(-90) scale(0.987 1)" font-size="57">(200)</text>
<text transform="translate(933.5 93.7) scale(0.987 1)" font-size="57">α (110)</text>
</g>
</svg></body></html>
